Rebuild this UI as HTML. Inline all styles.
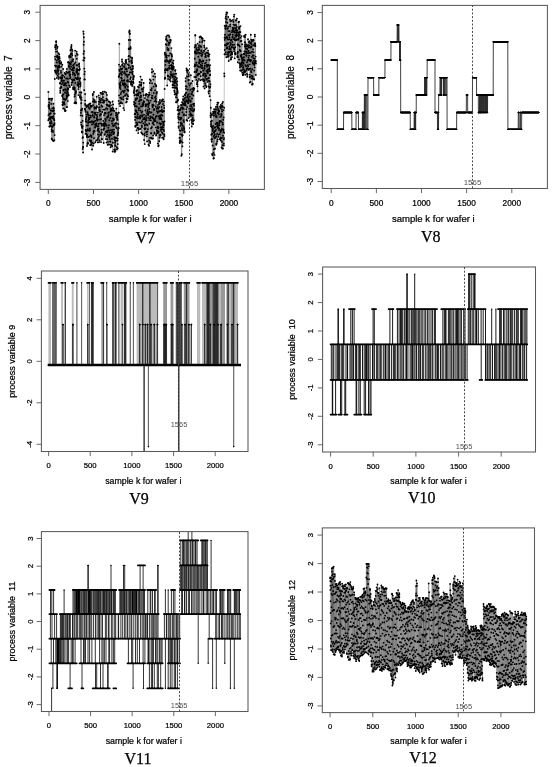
<!DOCTYPE html>
<html><head><meta charset="utf-8"><title>process variables V7-V12</title>
<style>html,body{margin:0;padding:0;background:#fff}svg{display:block;filter:grayscale(1)}</style></head><body>
<svg width="553" height="767" viewBox="0 0 553 767">
<rect width="553" height="767" fill="#fff"/>
<!-- V7 -->
<clipPath id="c7"><rect x="40.1" y="5.4" width="224.3" height="184"/></clipPath>
<marker id="m7" viewBox="-4 -4 8 8" markerWidth="8" markerHeight="8" markerUnits="userSpaceOnUse" refX="0" refY="0" overflow="visible"><circle r="0.95" fill="#000"/></marker>
<g clip-path="url(#c7)"><polyline points="48.3,120.2 48.4,91.9 48.5,115.2 48.6,106.4 48.7,105.8 48.8,105.2 48.8,104.6 48.9,118.9 49,98.8 49.1,107.5 49.2,99.3 49.3,126.6 49.4,102.5 49.5,108.7 49.6,114 49.7,113.8 49.7,118.3 49.8,117.4 49.9,126.6 50,117.2 50.1,122.5 50.2,123 50.3,119.6 50.4,123 50.5,125.3 50.6,117.9 50.6,113.2 50.7,110.1 50.8,117.2 50.9,98.6 51,110.7 51.1,126.1 51.2,103.9 51.3,100.1 51.4,121.2 51.5,117 51.6,131.4 51.6,129.2 51.7,138.8 51.8,123.2 51.9,130.9 52,127 52.1,139.5 52.2,98.7 52.3,108.4 52.4,111.2 52.5,117 52.5,118.4 52.6,117.2 52.7,126.6 52.8,140.6 52.9,130.6 53,132.1 53.1,125.2 53.2,110.8 53.3,116.1 53.4,118.2 53.4,103.7 53.5,107.5 53.6,110.3 53.7,141.1 53.8,108.5 53.9,110.7 54,119 54.1,113.5 54.2,124.5 54.3,120.3 54.4,140.1 54.4,124.8 54.5,123.2 54.6,135.1 54.7,113.6 54.8,79 54.9,70.6 55,56.6 55.1,65.6 55.2,59.1 55.3,47.5 55.3,45.3 55.4,47 55.5,72.2 55.6,70.8 55.7,71.2 55.8,66.5 55.9,49.1 56,51.6 56.1,42 56.2,45.8 56.2,41.2 56.3,44.7 56.4,73.7 56.5,65.9 56.6,73.5 56.7,60.5 56.8,62.6 56.9,78 57,56.7 57.1,57 57.1,55.6 57.2,51.6 57.3,47.9 57.4,70.1 57.5,46.8 57.6,75.7 57.7,72.1 57.8,68.3 57.9,71.5 58,67.1 58.1,58.3 58.1,66.5 58.2,59.4 58.3,57.7 58.4,56.7 58.5,53.2 58.6,78.9 58.7,73.9 58.8,70.1 58.9,77.2 59,61.4 59,67.5 59.1,65.6 59.2,66 59.3,54.4 59.4,56.9 59.5,62.3 59.6,63.6 59.7,58.5 59.8,67.4 59.9,63.4 59.9,60.6 60,83 60.1,83.6 60.2,92.7 60.3,90.7 60.4,88.6 60.5,87.7 60.6,88.1 60.7,78.2 60.8,87.5 60.9,70.9 60.9,77.3 61,72.7 61.1,63.5 61.2,62.1 61.3,66.6 61.4,87.1 61.5,81.3 61.6,78.5 61.7,80.7 61.8,84.2 61.8,78 61.9,80.1 62,75.5 62.1,95.9 62.2,77.9 62.3,64.8 62.4,75.5 62.5,104.6 62.6,102.3 62.7,95 62.7,105.3 62.8,97.1 62.9,82.7 63,75.4 63.1,69 63.2,108.5 63.3,99.1 63.4,94.2 63.5,103 63.6,90.5 63.7,89.6 63.7,80.7 63.8,80.4 63.9,85.3 64,103.9 64.1,98.9 64.2,102.2 64.3,77 64.4,84.7 64.5,83.3 64.6,109.1 64.6,104.3 64.7,73 64.8,110.9 64.9,99.6 65,84.9 65.1,92.5 65.2,89.3 65.3,92.6 65.4,74.4 65.5,110.8 65.5,110.6 65.6,99.6 65.7,99.6 65.8,73.6 65.9,89.9 66,83.2 66.1,78.6 66.2,85.6 66.3,71.7 66.4,98.6 66.5,95.7 66.5,97.5 66.6,93.7 66.7,78.1 66.8,107.1 66.9,68.9 67,107.1 67.1,96.5 67.2,91.3 67.3,96 67.4,90.1 67.4,88.1 67.5,92.5 67.6,72.7 67.7,81.8 67.8,101.1 67.9,78.8 68,89.1 68.1,62.3 68.2,94.1 68.3,62.2 68.3,89 68.4,82.5 68.5,95.5 68.6,95 68.7,72.3 68.8,66.1 68.9,66 69,67 69.1,85.4 69.2,56 69.2,57.2 69.3,63.9 69.4,62.6 69.5,74.1 69.6,71.7 69.7,75.4 69.8,55.5 69.9,87 70,78.5 70.1,76.1 70.2,68.7 70.2,74.4 70.3,56.7 70.4,50.3 70.5,77.3 70.6,63.5 70.7,64.5 70.8,56.9 70.9,54.3 71,48.9 71.1,62 71.1,66.7 71.2,47.1 71.3,53.6 71.4,46.8 71.5,45 71.6,85 71.7,82.8 71.8,79.4 71.9,53.4 72,69.6 72,49.4 72.1,70.2 72.2,60.1 72.3,55.2 72.4,50.9 72.5,82.4 72.6,80.8 72.7,74.4 72.8,68.3 72.9,72.4 73,61.2 73,87.9 73.1,59.2 73.2,89.2 73.3,65.4 73.4,79.8 73.5,65 73.6,70.2 73.7,67.5 73.8,67.2 73.9,87.2 73.9,68.2 74,88.5 74.1,73.5 74.2,87.9 74.3,80.1 74.4,103.1 74.5,63.7 74.6,96.6 74.7,89.7 74.8,88 74.8,94.7 74.9,75.2 75,75.2 75.1,50.6 75.2,102.3 75.3,78 75.4,82.9 75.5,62.5 75.6,55.8 75.7,92.4 75.8,103.3 75.8,93.1 75.9,102.7 76,91.2 76.1,78.1 76.2,103.2 76.3,71.5 76.4,72.9 76.5,69.7 76.6,65.3 76.7,58.7 76.7,51.6 76.8,53.8 76.9,79.1 77,68.8 77.1,72.1 77.2,65.3 77.3,79.3 77.4,84.8 77.5,70.3 77.6,54.7 77.6,72.6 77.7,74.7 77.8,77.2 77.9,82.5 78,85.7 78.1,78.7 78.2,84.4 78.3,89.1 78.4,95.1 78.5,84.1 78.6,73.9 78.6,87 78.7,70.2 78.8,69.9 78.9,70.3 79,64.6 79.1,66.1 79.2,63.5 79.3,66.9 79.4,78.9 79.5,84.1 79.5,81 79.6,69.5 79.7,68.9 79.8,92.5 79.9,97.2 80,96.7 80.1,95.1 80.2,78.3 80.3,86.4 80.4,82.4 80.4,83.7 80.5,84.9 80.6,98.8 80.7,115.4 80.8,110.4 80.9,112.9 81,92.4 81.1,122.4 81.2,124.8 81.3,103.3 81.3,92.5 81.4,97.4 81.5,109.2 81.6,99.9 81.7,110.6 81.8,126.3 81.9,131.7 82,132.4 82.1,127.5 82.2,108.7 82.3,115.8 82.3,127.9 82.4,131.9 82.5,137.9 82.6,120.8 82.7,149 82.8,126.2 82.9,137.3 83,147 83.1,152.5 83.2,142.6 83.2,147.3 83.3,60.1 83.4,31.5 83.5,53.7 83.6,33.8 83.7,44.8 83.8,60.6 83.9,37.3 84,41.7 84.1,57.6 84.1,51.2 84.2,90.2 84.3,68.6 84.4,74.3 84.5,79.4 84.6,58.1 84.7,79.4 84.8,71.6 84.9,109.3 85,108.9 85.1,100.6 85.1,94 85.2,103.9 85.3,104.9 85.4,110.7 85.5,133.7 85.6,129.9 85.7,111.9 85.8,121.5 85.9,119.8 86,118.1 86,130 86.1,131.2 86.2,133.8 86.3,114.6 86.4,105.9 86.5,107 86.6,116.8 86.7,125.6 86.8,121.8 86.9,135.8 86.9,137 87,146 87.1,105.3 87.2,135 87.3,130.4 87.4,143.9 87.5,112.2 87.6,106.3 87.7,113.7 87.8,142.7 87.9,125.3 87.9,129.3 88,143.5 88.1,115 88.2,122.7 88.3,137 88.4,120.2 88.5,106 88.6,122.4 88.7,130.4 88.8,117.5 88.8,104.4 88.9,107.9 89,115.5 89.1,118 89.2,118.9 89.3,119 89.4,130.8 89.5,136.6 89.6,140.2 89.7,103.7 89.7,108.8 89.8,122 89.9,128.4 90,130 90.1,140.8 90.2,145.2 90.3,140.6 90.4,103.5 90.5,135.3 90.6,105.7 90.7,106.9 90.7,115.8 90.8,117.4 90.9,121.9 91,142.3 91.1,135.9 91.2,144.3 91.3,141.1 91.4,135.8 91.5,144.8 91.6,137.1 91.6,105.7 91.7,106.6 91.8,121.1 91.9,124.5 92,149.5 92.1,112.1 92.2,142.9 92.3,112 92.4,115.7 92.5,121.9 92.5,112.3 92.6,115.1 92.7,95 92.8,101.6 92.9,94 93,105.1 93.1,145.8 93.2,122.3 93.3,133.9 93.4,123.6 93.5,99.1 93.5,131.3 93.6,101.1 93.7,132.4 93.8,143.5 93.9,92 94,121.7 94.1,138.2 94.2,102 94.3,116.5 94.4,113 94.4,117.5 94.5,107.3 94.6,131 94.7,100.2 94.8,108.6 94.9,107.6 95,113.9 95.1,127.5 95.2,124.7 95.3,120.7 95.3,142.2 95.4,127.2 95.5,124.8 95.6,124.6 95.7,112.6 95.8,102 95.9,114.8 96,107.7 96.1,108.4 96.2,140.6 96.2,125.8 96.3,123.2 96.4,123.7 96.5,118.2 96.6,106.9 96.7,96.7 96.8,106.1 96.9,107.1 97,115 97.1,119.7 97.2,120.8 97.2,116.7 97.3,119.1 97.4,126.4 97.5,130.5 97.6,139.8 97.7,139.5 97.8,112.6 97.9,142.4 98,119.7 98.1,134.6 98.1,129 98.2,137.9 98.3,126.3 98.4,124 98.5,130.4 98.6,128.6 98.7,95.5 98.8,101.6 98.9,104.1 99,136.1 99,107.7 99.1,132 99.2,142.1 99.3,97.9 99.4,110.1 99.5,102 99.6,140.4 99.7,109.9 99.8,107.1 99.9,111.4 100,115.6 100,99.7 100.1,119.5 100.2,123.4 100.3,114.5 100.4,134.2 100.5,134.8 100.6,92.9 100.7,100.6 100.8,102.5 100.9,92.9 100.9,114.2 101,134.8 101.1,142.1 101.2,119.1 101.3,98.7 101.4,123.6 101.5,105.4 101.6,129.8 101.7,132.1 101.8,139.1 101.8,132.8 101.9,139.3 102,125.7 102.1,124.7 102.2,112 102.3,106.8 102.4,94.3 102.5,93.4 102.6,94.1 102.7,99.8 102.8,93.7 102.8,102.5 102.9,91.7 103,97.2 103.1,109.6 103.2,120.9 103.3,123.8 103.4,129.5 103.5,124.6 103.6,129.5 103.7,143 103.7,102.3 103.8,102.5 103.9,100.4 104,101.3 104.1,115.1 104.2,125.7 104.3,128.4 104.4,126.5 104.5,122.9 104.6,134.7 104.6,123.5 104.7,113.4 104.8,91.7 104.9,109.7 105,134.1 105.1,112.6 105.2,118.9 105.3,113.3 105.4,121.1 105.5,124.6 105.6,123.8 105.6,113 105.7,131.9 105.8,119.8 105.9,139.1 106,108.3 106.1,100.6 106.2,92.8 106.3,125.5 106.4,98.8 106.5,104.6 106.5,142.6 106.6,136.2 106.7,125.4 106.8,131.1 106.9,94.9 107,132.5 107.1,117.8 107.2,104.8 107.3,105.4 107.4,108.9 107.4,139.2 107.5,99.7 107.6,116.6 107.7,144.8 107.8,134.6 107.9,130.6 108,141.9 108.1,105.6 108.2,116.7 108.3,127.8 108.3,112.9 108.4,144.5 108.5,115 108.6,130.4 108.7,112.4 108.8,101.5 108.9,135.7 109,125.2 109.1,105.3 109.2,106 109.3,120.2 109.3,137.3 109.4,132.4 109.5,101.8 109.6,136.1 109.7,106.6 109.8,139.1 109.9,144.6 110,134.5 110.1,130.3 110.2,141.4 110.2,141.7 110.3,118 110.4,102.8 110.5,111.5 110.6,147.3 110.7,114.9 110.8,110.2 110.9,108.6 111,105.1 111.1,135.3 111.1,109 111.2,145 111.3,110.1 111.4,132.9 111.5,113.9 111.6,110.3 111.7,121.1 111.8,145.6 111.9,109.9 112,138.7 112.1,146.3 112.1,130 112.2,131.5 112.3,123.4 112.4,107.6 112.5,110.6 112.6,101.5 112.7,151.6 112.8,118.4 112.9,142.7 113,120.4 113,125.2 113.1,104.4 113.2,134.2 113.3,126.1 113.4,108.7 113.5,132.7 113.6,110.6 113.7,119.9 113.8,119 113.9,129.6 113.9,132.1 114,133.1 114.1,139.1 114.2,137.2 114.3,149.6 114.4,149.9 114.5,110.9 114.6,151.8 114.7,150.6 114.8,149.5 114.9,123.9 114.9,125.6 115,140.3 115.1,145.2 115.2,142.8 115.3,151.6 115.4,145.9 115.5,141.3 115.6,138 115.7,137.5 115.8,140.6 115.8,123.3 115.9,115.5 116,112.9 116.1,127.1 116.2,112.9 116.3,108.6 116.4,117.5 116.5,114.1 116.6,128.3 116.7,123.5 116.7,138.1 116.8,147.3 116.9,149.5 117,115.8 117.1,117 117.2,114.2 117.3,119 117.4,119.9 117.5,140.6 117.6,135.4 117.7,138.8 117.7,148.5 117.8,144.1 117.9,135 118,129.9 118.1,133.2 118.2,132.3 118.3,124.1 118.4,127.8 118.5,112.8 118.6,112.8 118.6,128.4 118.7,100.9 118.8,76.7 118.9,76.5 119,64.6 119.1,95.4 119.2,103.7 119.3,43.8 119.4,69.8 119.5,75.1 119.5,83.5 119.6,71 119.7,73.7 119.8,86 119.9,87.8 120,84.3 120.1,106.1 120.2,97.6 120.3,103 120.4,89.1 120.4,85.8 120.5,66.5 120.6,82.1 120.7,102.2 120.8,93.9 120.9,68.8 121,72.1 121.1,73.4 121.2,77.7 121.3,102.8 121.4,98.2 121.4,92.1 121.5,69.6 121.6,99.1 121.7,78.4 121.8,80.5 121.9,74.8 122,59.4 122.1,61.4 122.2,103.4 122.3,65.3 122.3,68.5 122.4,64.8 122.5,71.9 122.6,80.6 122.7,83.1 122.8,84.2 122.9,91 123,63.1 123.1,83.6 123.2,99.5 123.2,91.3 123.3,96.9 123.4,108.1 123.5,84.9 123.6,84.5 123.7,80.8 123.8,85.3 123.9,92.4 124,73.3 124.1,66.4 124.2,110.1 124.2,66.3 124.3,80.3 124.4,67.1 124.5,83.6 124.6,71.6 124.7,83.1 124.8,90.7 124.9,64 125,95.4 125.1,73.3 125.1,95.8 125.2,86.4 125.3,87.7 125.4,84.3 125.5,69.2 125.6,61.7 125.7,60 125.8,61.8 125.9,68.4 126,60.3 126,74.8 126.1,102.4 126.2,93.9 126.3,74.6 126.4,62.9 126.5,85.2 126.6,98.6 126.7,98.6 126.8,101.8 126.9,69.1 127,89.4 127,71.2 127.1,81 127.2,80.6 127.3,76.3 127.4,95.3 127.5,76.8 127.6,99 127.7,90 127.8,86.7 127.9,64.5 127.9,80.3 128,81.6 128.1,96.4 128.2,74.8 128.3,90.7 128.4,59.3 128.5,68 128.6,56.4 128.7,49.1 128.8,40 128.8,48.8 128.9,55.9 129,65.5 129.1,74.6 129.2,32 129.3,48.5 129.4,61.4 129.5,30.4 129.6,31.7 129.7,81.6 129.8,33.6 129.8,33.8 129.9,49.1 130,72.4 130.1,72.4 130.2,79 130.3,67.2 130.4,40 130.5,47 130.6,57.1 130.7,48.3 130.7,69.1 130.8,77.2 130.9,83.1 131,84.6 131.1,82.2 131.2,81.2 131.3,84.4 131.4,60.8 131.5,69.7 131.6,62.5 131.6,72.4 131.7,60.6 131.8,62.3 131.9,63.1 132,58.8 132.1,57.8 132.2,86.1 132.3,84.7 132.4,74.4 132.5,69.1 132.5,73.2 132.6,65.9 132.7,71.6 132.8,66.3 132.9,68.3 133,81.8 133.1,82.4 133.2,79 133.3,79.4 133.4,83 133.5,77.7 133.5,76.9 133.6,75.8 133.7,76.3 133.8,92.8 133.9,91.1 134,92.8 134.1,102 134.2,104.2 134.3,104.6 134.4,89.9 134.4,87 134.5,88.2 134.6,95.2 134.7,114.2 134.8,106.2 134.9,114.2 135,113.8 135.1,119.9 135.2,116.9 135.3,126.8 135.3,103.2 135.4,125.9 135.5,100.2 135.6,99.6 135.7,110.2 135.8,98.5 135.9,105.9 136,94.5 136.1,117.6 136.2,122.4 136.3,111.2 136.3,111.9 136.4,91.4 136.5,130.4 136.6,90.4 136.7,125 136.8,95.3 136.9,106.7 137,98.4 137.1,98.5 137.2,123.2 137.2,112.7 137.3,116.1 137.4,118.2 137.5,124.8 137.6,90.2 137.7,128 137.8,114.3 137.9,93.6 138,94.4 138.1,95.4 138.1,86.8 138.2,133.1 138.3,128.2 138.4,129.7 138.5,110.1 138.6,118.2 138.7,87.3 138.8,108.5 138.9,108.1 139,92.3 139.1,101.4 139.1,122.3 139.2,103.9 139.3,85.1 139.4,116.4 139.5,129.1 139.6,82 139.7,100.9 139.8,117 139.9,117.8 140,99.8 140,97.3 140.1,118.6 140.2,93 140.3,110.6 140.4,84.8 140.5,76.6 140.6,128.9 140.7,122.6 140.8,97.3 140.9,115.4 140.9,95.7 141,106.4 141.1,85.6 141.2,84.7 141.3,132.4 141.4,82.7 141.5,99.9 141.6,112.6 141.7,125.8 141.8,89.3 141.9,79.7 141.9,133.5 142,127 142.1,121.2 142.2,116.8 142.3,111.4 142.4,115.5 142.5,106.3 142.6,104.4 142.7,91.4 142.8,89.4 142.8,89 142.9,134.5 143,103 143.1,119.3 143.2,123.5 143.3,104.2 143.4,105.3 143.5,87.6 143.6,101.7 143.7,83 143.7,95.2 143.8,102.7 143.9,101.3 144,114.7 144.1,140 144.2,118.6 144.3,117.4 144.4,128.5 144.5,118.9 144.6,133.7 144.7,144.1 144.7,125.4 144.8,135.5 144.9,98.1 145,129.2 145.1,124.4 145.2,122.1 145.3,119.2 145.4,110.4 145.5,106.2 145.6,128.4 145.6,104.5 145.7,94.8 145.8,95.5 145.9,132.1 146,115.9 146.1,120.3 146.2,104.4 146.3,94 146.4,120.3 146.5,105.4 146.5,117.9 146.6,124.4 146.7,132.3 146.8,136.4 146.9,134.2 147,99.8 147.1,141.5 147.2,131.4 147.3,125.3 147.4,113.8 147.4,113.2 147.5,111.8 147.6,104.3 147.7,94.6 147.8,109.9 147.9,129.2 148,96.9 148.1,114.6 148.2,115.1 148.3,107 148.4,117.9 148.4,100.8 148.5,144.5 148.6,113.3 148.7,104.9 148.8,95.2 148.9,103.2 149,145.8 149.1,140.5 149.2,92.7 149.3,120.1 149.3,123.7 149.4,111.6 149.5,109 149.6,102.7 149.7,94.6 149.8,83 149.9,79.4 150,138 150.1,141.7 150.2,143 150.2,118.6 150.3,116.4 150.4,112.4 150.5,117.9 150.6,100.6 150.7,90 150.8,80.7 150.9,120.4 151,133.4 151.1,128.2 151.2,133.2 151.2,137.7 151.3,117.1 151.4,112.5 151.5,90.2 151.6,97.8 151.7,88.2 151.8,127.3 151.9,72.3 152,69.3 152.1,138.8 152.1,83.3 152.2,95.8 152.3,98.3 152.4,105.6 152.5,117.2 152.6,104.7 152.7,107 152.8,123.5 152.9,118.3 153,138.4 153,122.5 153.1,135.6 153.2,71.2 153.3,76.3 153.4,79.6 153.5,114.8 153.6,86.5 153.7,105.2 153.8,92.9 153.9,124.7 154,110 154,120.6 154.1,119.4 154.2,109 154.3,119.4 154.4,133.8 154.5,132.4 154.6,121.3 154.7,119.7 154.8,73.7 154.9,101.4 154.9,97.4 155,84 155.1,90.4 155.2,76.8 155.3,118.1 155.4,121 155.5,100.1 155.6,106.6 155.7,96.2 155.8,116.8 155.8,127.6 155.9,98.6 156,135.5 156.1,85.3 156.2,86.2 156.3,93.1 156.4,134.1 156.5,101.8 156.6,93.7 156.7,130.3 156.8,116 156.8,108.7 156.9,92 157,111.2 157.1,122.5 157.2,130.9 157.3,130.9 157.4,133.1 157.5,132.7 157.6,107.2 157.7,127.2 157.7,112.7 157.8,143.6 157.9,127.3 158,104.9 158.1,128.2 158.2,132.3 158.3,146.2 158.4,108.8 158.5,127.5 158.6,131.5 158.6,116.5 158.7,145.4 158.8,111.5 158.9,103.9 159,101.9 159.1,107 159.2,141.3 159.3,116.1 159.4,111.4 159.5,123.3 159.5,118 159.6,118.9 159.7,137.7 159.8,103.6 159.9,100 160,134.7 160.1,135.9 160.2,102.4 160.3,115.5 160.4,110.9 160.5,116.9 160.5,118.9 160.6,124.5 160.7,129.6 160.8,135.1 160.9,123.4 161,127.2 161.1,117.9 161.2,131.1 161.3,127.9 161.4,119.5 161.4,101.1 161.5,114.7 161.6,106.9 161.7,111.5 161.8,109.8 161.9,101.1 162,132.7 162.1,126.9 162.2,137.7 162.3,121.6 162.3,129.2 162.4,115.8 162.5,99.8 162.6,99.8 162.7,112 162.8,133.8 162.9,99.4 163,104 163.1,111 163.2,127.2 163.3,125 163.3,123.3 163.4,122.3 163.5,129.7 163.6,139.2 163.7,137.7 163.8,125.1 163.9,101.6 164,105.6 164.1,131.1 164.2,107.9 164.2,111.1 164.3,134.5 164.4,136 164.5,121.4 164.6,89 164.7,54.1 164.8,78.7 164.9,52.7 165,70.5 165.1,61 165.1,77.8 165.2,78.4 165.3,72.5 165.4,64.9 165.5,69.3 165.6,55.2 165.7,44.1 165.8,54.2 165.9,61.8 166,56.9 166.1,55.7 166.1,39.6 166.2,36.7 166.3,38.8 166.4,59.6 166.5,39.8 166.6,45 166.7,57.6 166.8,70.3 166.9,55.6 167,69.2 167,69.7 167.1,60.6 167.2,85.5 167.3,35.4 167.4,47.9 167.5,40.9 167.6,49.7 167.7,70.3 167.8,75.7 167.9,76.3 167.9,75.8 168,68.8 168.1,78.9 168.2,61.1 168.3,61.6 168.4,50.2 168.5,49 168.6,43.6 168.7,35.5 168.8,45.1 168.9,42.5 168.9,55.8 169,67.6 169.1,63 169.2,76.9 169.3,65.7 169.4,36.9 169.5,43.2 169.6,80 169.7,79.4 169.8,68.8 169.8,61 169.9,60.1 170,61.7 170.1,60.6 170.2,53.4 170.3,40.1 170.4,42.1 170.5,39.8 170.6,40.5 170.7,81.4 170.7,74.2 170.8,77.9 170.9,71.9 171,76 171.1,65.4 171.2,68.2 171.3,64.9 171.4,48.1 171.5,59.5 171.6,54.3 171.6,67.2 171.7,55.2 171.8,74.1 171.9,74.9 172,56.5 172.1,66 172.2,69.3 172.3,69.8 172.4,62.5 172.5,85.1 172.6,87.6 172.6,76 172.7,67.6 172.8,77.1 172.9,81.6 173,68.3 173.1,84.4 173.2,63.6 173.3,66.5 173.4,60.6 173.5,68.3 173.5,69 173.6,85.2 173.7,66.9 173.8,81.7 173.9,74.3 174,87.5 174.1,79 174.2,76.5 174.3,90.7 174.4,81.2 174.4,81.7 174.5,83.2 174.6,92.1 174.7,94.4 174.8,87.6 174.9,85.6 175,81.3 175.1,70.8 175.2,82.4 175.3,73.6 175.4,70.3 175.4,77.3 175.5,80.3 175.6,82.2 175.7,87.8 175.8,93.8 175.9,97.1 176,102.3 176.1,73.6 176.2,79.4 176.3,87.1 176.3,83.4 176.4,95 176.5,88.1 176.6,97.4 176.7,102.3 176.8,93.4 176.9,78.1 177,88.3 177.1,84.9 177.2,89.3 177.2,81.4 177.3,91.5 177.4,101.1 177.5,110.1 177.6,90.9 177.7,92.9 177.8,99.5 177.9,100.3 178,107.6 178.1,110.2 178.2,114.1 178.2,116.5 178.3,118.3 178.4,122.6 178.5,114.4 178.6,126.5 178.7,127.9 178.8,106.1 178.9,110.1 179,110.7 179.1,113.7 179.1,109.4 179.2,117.6 179.3,119.6 179.4,113.1 179.5,130.1 179.6,138 179.7,137.8 179.8,143 179.9,142.3 180,141.9 180,140.7 180.1,134.3 180.2,110.1 180.3,130.9 180.4,140.1 180.5,119.4 180.6,125.7 180.7,109 180.8,122.7 180.9,117.6 181,105 181,107.4 181.1,118.5 181.2,117.9 181.3,124.2 181.4,155.8 181.5,141.4 181.6,134.5 181.7,105.3 181.8,154.2 181.9,123.7 181.9,128.1 182,129.9 182.1,102.2 182.2,135.9 182.3,108.8 182.4,146.4 182.5,112.3 182.6,142.6 182.7,135.2 182.8,107.3 182.8,125.8 182.9,130.2 183,99.2 183.1,104.2 183.2,103.2 183.3,96.4 183.4,100.4 183.5,104.8 183.6,120.2 183.7,108.9 183.8,115.2 183.8,127.1 183.9,121.9 184,114.2 184.1,128.4 184.2,129 184.3,132.2 184.4,131.1 184.5,98.7 184.6,103.9 184.7,105.3 184.7,132.2 184.8,101.4 184.9,103.4 185,95 185.1,94.9 185.2,102.2 185.3,97.4 185.4,105.2 185.5,105.4 185.6,93.5 185.6,81.3 185.7,78.1 185.8,86.2 185.9,88.9 186,115.2 186.1,100.3 186.2,92.6 186.3,109.2 186.4,112 186.5,120 186.5,68.5 186.6,70.5 186.7,86.8 186.8,101.6 186.9,100.7 187,76.5 187.1,107.1 187.2,97.2 187.3,120.8 187.4,70.9 187.5,69.8 187.5,72.6 187.6,96.8 187.7,97.4 187.8,89.6 187.9,95 188,70.6 188.1,103.3 188.2,101 188.3,102.8 188.4,79.9 188.4,99 188.5,118.1 188.6,76.2 188.7,74.3 188.8,80.6 188.9,101.2 189,83.4 189.1,94 189.2,99.5 189.3,101.2 189.3,108.8 189.4,114.6 189.5,85.2 189.6,117 189.7,111.8 189.8,96.8 189.9,105.9 190,109 190.1,109.7 190.2,114.8 190.3,113.1 190.3,83.8 190.4,108.6 190.5,89.7 190.6,101.8 190.7,100.6 190.8,75.2 190.9,115.8 191,105 191.1,114.5 191.2,83.1 191.2,115.4 191.3,120 191.4,94 191.5,106.5 191.6,110.2 191.7,122.1 191.8,126.5 191.9,94.3 192,98.5 192.1,89 192.1,91.9 192.2,108.1 192.3,123.8 192.4,119.5 192.5,81 192.6,91.5 192.7,115.4 192.8,117.9 192.9,121.3 193,110.1 193.1,111.2 193.1,104.3 193.2,124 193.3,95.5 193.4,89.3 193.5,87.9 193.6,88.5 193.7,90 193.8,103.9 193.9,120.3 194,103.6 194,105.7 194.1,110.6 194.2,109.3 194.3,88.6 194.4,76.9 194.5,66.2 194.6,72 194.7,47.2 194.8,58.7 194.9,51.8 194.9,64.5 195,52.7 195.1,45.1 195.2,35.5 195.3,35.1 195.4,65.8 195.5,51.2 195.6,77.6 195.7,53.6 195.8,46.6 195.9,77 195.9,65.3 196,45 196.1,71.2 196.2,79.9 196.3,72.2 196.4,62.8 196.5,48.3 196.6,49.8 196.7,52.1 196.8,53.6 196.8,84.1 196.9,65.3 197,69.3 197.1,75.1 197.2,70.5 197.3,82.4 197.4,84.3 197.5,86.2 197.6,91.3 197.7,43.6 197.7,75.4 197.8,81 197.9,74.1 198,50.5 198.1,66.5 198.2,52.8 198.3,56.8 198.4,49.8 198.5,47.6 198.6,47.2 198.6,66.8 198.7,74.2 198.8,49.7 198.9,79 199,45.2 199.1,62.1 199.2,63.4 199.3,73.8 199.4,49.3 199.5,37.1 199.6,42 199.6,59.7 199.7,62.5 199.8,53.6 199.9,52.9 200,67 200.1,60.5 200.2,60.6 200.3,80.3 200.4,36.4 200.5,46.4 200.5,46.2 200.6,76.3 200.7,65 200.8,72 200.9,72.3 201,53.4 201.1,37.1 201.2,46.9 201.3,50.5 201.4,55.6 201.4,51.2 201.5,61.7 201.6,65.7 201.7,68 201.8,37.9 201.9,55.8 202,79.6 202.1,38.5 202.2,42 202.3,65.7 202.4,54.1 202.4,63.6 202.5,79.7 202.6,68.3 202.7,38.8 202.8,40.6 202.9,52.7 203,60.4 203.1,61.5 203.2,75.5 203.3,70.5 203.3,74.3 203.4,70.5 203.5,86.6 203.6,81.1 203.7,79.2 203.8,75.3 203.9,50.9 204,50.6 204.1,73.4 204.2,81.1 204.2,45.6 204.3,67.4 204.4,47.2 204.5,40.6 204.6,88.4 204.7,68.7 204.8,80.2 204.9,65.8 205,83.3 205.1,63.4 205.2,85.3 205.2,76.9 205.3,56.8 205.4,54.2 205.5,49.1 205.6,53.4 205.7,73.9 205.8,55.7 205.9,57.1 206,62.6 206.1,75.8 206.1,75.7 206.2,78.8 206.3,87.1 206.4,86.2 206.5,71.1 206.6,60.4 206.7,52.6 206.8,48.1 206.9,79.9 207,64.8 207,66.8 207.1,71.4 207.2,65.6 207.3,71.3 207.4,72.2 207.5,81.9 207.6,69.8 207.7,52.7 207.8,73.2 207.9,65 208,64.9 208,78.4 208.1,50.6 208.2,55.6 208.3,55.7 208.4,53.5 208.5,91.8 208.6,56.2 208.7,86.5 208.8,93.6 208.9,80.8 208.9,78 209,69.5 209.1,71.2 209.2,66 209.3,68.2 209.4,54.4 209.5,59.9 209.6,90.9 209.7,96.3 209.8,81.5 209.8,87.8 209.9,71 210,75.3 210.1,65.1 210.2,74.7 210.3,86.8 210.4,84.2 210.5,115.5 210.6,100.1 210.7,117.2 210.7,113.2 210.8,107.7 210.9,121.5 211,124.8 211.1,123.1 211.2,126.3 211.3,134.8 211.4,126.5 211.5,139.7 211.6,139.2 211.7,115.2 211.7,114.7 211.8,141.8 211.9,120.7 212,127.2 212.1,139.1 212.2,133.7 212.3,153.9 212.4,154.2 212.5,155.4 212.6,145.5 212.6,126.7 212.7,130 212.8,131.1 212.9,128.7 213,125.9 213.1,113.8 213.2,111.6 213.3,113.2 213.4,158.5 213.5,136.1 213.5,152.9 213.6,113.3 213.7,132.6 213.8,149.2 213.9,158.2 214,115.8 214.1,109.2 214.2,132.6 214.3,137.4 214.4,135.1 214.5,131 214.5,154.9 214.6,127.8 214.7,112.6 214.8,111.2 214.9,134.1 215,148.8 215.1,138 215.2,112.8 215.3,131.3 215.4,127.3 215.4,114.4 215.5,111.7 215.6,109.1 215.7,124 215.8,116.6 215.9,106.9 216,129.6 216.1,136.8 216.2,136.1 216.3,144 216.3,144.7 216.4,109.5 216.5,115.7 216.6,143.4 216.7,123.2 216.8,117.1 216.9,126.1 217,122.8 217.1,134 217.2,104.7 217.3,106.8 217.3,141.5 217.4,102.6 217.5,113.3 217.6,107.6 217.7,139.5 217.8,124.1 217.9,126.6 218,127.5 218.1,125.1 218.2,128.3 218.2,110.1 218.3,102.7 218.4,136.7 218.5,112.9 218.6,109.1 218.7,134.8 218.8,111.2 218.9,114.5 219,128.5 219.1,130.1 219.1,111.6 219.2,110.8 219.3,123.2 219.4,125.2 219.5,122.2 219.6,121.5 219.7,134.1 219.8,121.2 219.9,139.2 220,121 220.1,116.9 220.1,106.4 220.2,107.9 220.3,139 220.4,132.1 220.5,137.7 220.6,130.1 220.7,131.9 220.8,140.6 220.9,104.9 221,106.6 221,107.7 221.1,121.4 221.2,113.9 221.3,116 221.4,130.3 221.5,114.8 221.6,147.5 221.7,109.6 221.8,138 221.9,128.9 221.9,141.9 222,106.1 222.1,111.4 222.2,103.4 222.3,148.5 222.4,106.1 222.5,145.2 222.6,122.6 222.7,124.3 222.8,124.6 222.8,106.9 222.9,101.9 223,148.6 223.1,135.7 223.2,119.7 223.3,130.3 223.4,129.4 223.5,131.9 223.6,110.1 223.7,117.4 223.8,143.6 223.8,139.4 223.9,145.5 224,137.9 224.1,132.7 224.2,107.7 224.3,73.5 224.4,76.3 224.5,54.2 224.6,37.5 224.7,25.8 224.7,39.9 224.8,50 224.9,34.8 225,45.3 225.1,45.2 225.2,54.4 225.3,38.1 225.4,28 225.5,37.7 225.6,28.8 225.6,18.3 225.7,26.3 225.8,52.4 225.9,16.4 226,21.9 226.1,45.5 226.2,14.4 226.3,57.3 226.4,25.8 226.5,12.5 226.6,43.9 226.6,19.2 226.7,48.4 226.8,37 226.9,37.6 227,47.5 227.1,54.4 227.2,12.8 227.3,22.8 227.4,48.2 227.5,28.8 227.5,39 227.6,56.4 227.7,44.2 227.8,28.3 227.9,52.4 228,56.8 228.1,43.2 228.2,17 228.3,26.6 228.4,35.3 228.4,39.6 228.5,31.1 228.6,53.9 228.7,61 228.8,51.9 228.9,55.9 229,52.6 229.1,51.8 229.2,46.5 229.3,49.6 229.4,48.4 229.4,37.2 229.5,31.1 229.6,34.9 229.7,39.3 229.8,48.2 229.9,19.5 230,26.3 230.1,42.7 230.2,24.6 230.3,45.1 230.3,21.1 230.4,34.2 230.5,59.5 230.6,51.3 230.7,55 230.8,49.1 230.9,40.6 231,44.1 231.1,59.3 231.2,57.6 231.2,53.6 231.3,51.7 231.4,20.7 231.5,32.1 231.6,47.3 231.7,39.7 231.8,46.8 231.9,52.8 232,57.1 232.1,54.2 232.2,30.5 232.2,52.7 232.3,42.1 232.4,37.5 232.5,27.6 232.6,36.4 232.7,44.7 232.8,34.6 232.9,31.9 233,19.9 233.1,30.2 233.1,28.2 233.2,47.4 233.3,21.7 233.4,30.1 233.5,24.6 233.6,28.9 233.7,31.1 233.8,39 233.9,16.4 234,48.4 234,44.8 234.1,51.3 234.2,49.2 234.3,14.6 234.4,38.2 234.5,31.5 234.6,32.6 234.7,58.4 234.8,39.5 234.9,25.3 235,28 235,53.7 235.1,53.3 235.2,47.3 235.3,40.3 235.4,35.5 235.5,53.1 235.6,54.4 235.7,20.5 235.8,30.4 235.9,25 235.9,28.8 236,32.6 236.1,36.8 236.2,40.3 236.3,20.1 236.4,34.8 236.5,39.7 236.6,30.6 236.7,32.9 236.8,27 236.8,30.9 236.9,18.6 237,29.9 237.1,32.3 237.2,35.5 237.3,56.9 237.4,39.1 237.5,53.5 237.6,44.5 237.7,51.9 237.7,55.9 237.8,62.3 237.9,51.9 238,57.3 238.1,32.7 238.2,44.9 238.3,44.6 238.4,39.7 238.5,22.3 238.6,34.5 238.7,38.4 238.7,36.5 238.8,28.1 238.9,59.6 239,21.7 239.1,45.5 239.2,28.8 239.3,63.2 239.4,27 239.5,32.6 239.6,34.9 239.6,31.9 239.7,50 239.8,46.4 239.9,67.4 240,50.5 240.1,65.7 240.2,70.5 240.3,64.5 240.4,37.8 240.5,26.1 240.5,32.1 240.6,41.3 240.7,51.3 240.8,56 240.9,55.2 241,63.7 241.1,66.2 241.2,70.9 241.3,63.9 241.4,41 241.5,36.1 241.5,57 241.6,62.6 241.7,57.2 241.8,54.8 241.9,70.3 242,59.3 242.1,44.3 242.2,58.3 242.3,72.7 242.4,60.8 242.4,62.1 242.5,58.1 242.6,65.2 242.7,75.1 242.8,74.4 242.9,74.7 243,74.9 243.1,67.7 243.2,67.2 243.3,63.5 243.3,69.4 243.4,62.6 243.5,59.6 243.6,73.2 243.7,54.1 243.8,59.9 243.9,57.2 244,53.6 244.1,71.8 244.2,36.7 244.3,35.6 244.3,69.9 244.4,60.4 244.5,51.5 244.6,54.1 244.7,71.9 244.8,46.5 244.9,42.1 245,42.6 245.1,36.9 245.2,74.8 245.2,44.7 245.3,71.8 245.4,65.2 245.5,51.5 245.6,34.8 245.7,44.4 245.8,46.8 245.9,48.7 246,46.4 246.1,70.6 246.1,44.5 246.2,66.4 246.3,55.6 246.4,51.8 246.5,53.6 246.6,53.2 246.7,55.7 246.8,69 246.9,73.9 247,62.3 247.1,46 247.1,49.4 247.2,48.8 247.3,76.8 247.4,74.9 247.5,68.2 247.6,60.3 247.7,65.3 247.8,60.4 247.9,53.3 248,39.3 248,44.9 248.1,46.7 248.2,51.2 248.3,66.2 248.4,57.6 248.5,69.5 248.6,50.9 248.7,69.8 248.8,42.3 248.9,59.3 248.9,47.6 249,47.3 249.1,55.8 249.2,52.8 249.3,41.3 249.4,45.4 249.5,60.3 249.6,64.4 249.7,74.6 249.8,82.6 249.8,77.3 249.9,76.8 250,68.6 250.1,68.6 250.2,60.2 250.3,61.4 250.4,43.2 250.5,43.3 250.6,81.9 250.7,52.8 250.8,34.8 250.8,47.3 250.9,47.5 251,70.9 251.1,60.1 251.2,39.7 251.3,72.2 251.4,76 251.5,78.5 251.6,44.1 251.7,41.5 251.7,41.6 251.8,46.5 251.9,56.9 252,51.6 252.1,84.5 252.2,69.2 252.3,62.1 252.4,40.2 252.5,84.4 252.6,83.6 252.6,77.9 252.7,76.1 252.8,55.5 252.9,63.3 253,49.3 253.1,63.8 253.2,79.1 253.3,39.8 253.4,45.3 253.5,40.4 253.6,52.3 253.6,58.2 253.7,55.5 253.8,60.9 253.9,63.8 254,79.2 254.1,70.5 254.2,79.4 254.3,65.1 254.4,63.3 254.5,62.6 254.5,58.8 254.6,67.5 254.7,43.7 254.8,34.6 254.9,36.2 255,43.3 255.1,46 255.2,45 255.3,62.2 255.4,46.1 255.4,62.2 255.5,61.2 255.6,56.6 255.7,60.9 255.8,74.9 255.9,63.6" fill="none" stroke="#707070" stroke-width="0.4" stroke-linejoin="round" marker-start="url(#m7)" marker-mid="url(#m7)" marker-end="url(#m7)"/></g>
<rect x="40.1" y="5.4" width="224.3" height="184" fill="none" stroke="#5a5a5a" stroke-width="1.05"/>
<path d="M48.3 189.4v4.6M93.5 189.4v4.6M138.6 189.4v4.6M183.8 189.4v4.6M228.9 189.4v4.6M40.1 182.4h-4.8M40.1 154h-4.8M40.1 125.7h-4.8M40.1 97.3h-4.8M40.1 68.9h-4.8M40.1 40.6h-4.8M40.1 12.2h-4.8" stroke="#5a5a5a" stroke-width="0.9" fill="none"/>
<path d="M189.5 5V189.4" stroke="#4a4a4a" stroke-width="1" stroke-dasharray="2 1.7" fill="none"/>
<g font-family="'Liberation Sans', sans-serif" fill="#000" stroke="#000" stroke-width="0.22">
<text x="48.3" y="206.2" font-size="8.3" text-anchor="middle">0</text>
<text x="93.5" y="206.2" font-size="8.3" text-anchor="middle">500</text>
<text x="138.6" y="206.2" font-size="8.3" text-anchor="middle">1000</text>
<text x="183.8" y="206.2" font-size="8.3" text-anchor="middle">1500</text>
<text x="228.9" y="206.2" font-size="8.3" text-anchor="middle">2000</text>
<text transform="translate(30.2 182.4) rotate(-90)" font-size="8.3" text-anchor="middle">-3</text>
<text transform="translate(30.2 154) rotate(-90)" font-size="8.3" text-anchor="middle">-2</text>
<text transform="translate(30.2 125.7) rotate(-90)" font-size="8.3" text-anchor="middle">-1</text>
<text transform="translate(30.2 97.3) rotate(-90)" font-size="8.3" text-anchor="middle">0</text>
<text transform="translate(30.2 68.9) rotate(-90)" font-size="8.3" text-anchor="middle">1</text>
<text transform="translate(30.2 40.6) rotate(-90)" font-size="8.3" text-anchor="middle">2</text>
<text transform="translate(30.2 12.2) rotate(-90)" font-size="8.3" text-anchor="middle">3</text>
<text x="150.2" y="221.7" font-size="9.55" text-anchor="middle">sample k for wafer i</text>
<text transform="translate(12 97.4) rotate(-90)" font-size="10.0" text-anchor="middle">process variable  7</text>
<text x="189.6" y="185.6" font-size="7.9" text-anchor="middle" fill="#505050" stroke="none">1565</text>
</g>
<text x="145.3" y="242.6" font-family="'Liberation Serif', serif" font-size="16" text-anchor="middle" fill="#000" stroke="#000" stroke-width="0.25">V7</text>
<!-- V8 -->
<clipPath id="c8"><rect x="322.3" y="5.4" width="225.1" height="183.1"/></clipPath>
<marker id="m8" viewBox="-4 -4 8 8" markerWidth="8" markerHeight="8" markerUnits="userSpaceOnUse" refX="0" refY="0" overflow="visible"><circle r="0.72" fill="#000"/></marker>
<g clip-path="url(#c8)"><polyline points="331.2,60.1 331.3,60.1 331.4,60.1 331.5,60.1 331.6,60.1 331.7,60.1 331.7,60.1 331.8,60.1 331.9,60.1 332,60.1 332.1,60.1 332.2,60.1 332.3,60.1 332.4,60.1 332.5,60.1 332.6,60.1 332.6,60.1 332.7,60.1 332.8,60.1 332.9,60.1 333,60.1 333.1,60.1 333.2,60.1 333.3,60.1 333.4,60.1 333.5,60.1 333.5,60.1 333.6,60.1 333.7,60.1 333.8,60.1 333.9,60.1 334,60.1 334.1,60.1 334.2,60.1 334.3,60.1 334.4,60.1 334.5,60.1 334.5,60.1 334.6,60.1 334.7,60.1 334.8,60.1 334.9,60.1 335,60.1 335.1,60.1 335.2,60.1 335.3,60.1 335.4,60.1 335.4,60.1 335.5,60.1 335.6,60.1 335.7,60.1 335.8,60.1 335.9,60.1 336,60.1 336.1,60.1 336.2,60.1 336.3,60.1 336.3,60.1 336.4,60.1 336.5,60.1 336.6,60.1 336.7,60.1 336.8,60.1 336.9,60.1 337,60.1 337.1,60.1 337.2,60.1 337.3,60.1 337.3,129.4 337.4,129.4 337.5,129.4 337.6,129.4 337.7,129.4 337.8,129.4 337.9,129.4 338,129.4 338.1,129.4 338.2,129.4 338.2,129.4 338.3,129.4 338.4,129.4 338.5,129.4 338.6,129.4 338.7,129.4 338.8,129.4 338.9,129.4 339,129.4 339.1,129.4 339.1,129.4 339.2,129.4 339.3,129.4 339.4,129.4 339.5,129.4 339.6,129.4 339.7,129.4 339.8,129.4 339.9,129.4 340,129.4 340,129.4 340.1,129.4 340.2,129.4 340.3,129.4 340.4,129.4 340.5,129.4 340.6,129.4 340.7,129.4 340.8,129.4 340.9,129.4 341,129.4 341,129.4 341.1,129.4 341.2,129.4 341.3,129.4 341.4,129.4 341.5,129.4 341.6,129.4 341.7,129.4 341.8,129.4 341.9,129.4 341.9,129.4 342,129.4 342.1,129.4 342.2,129.4 342.3,129.4 342.4,129.4 342.5,129.4 342.6,129.4 342.7,129.4 342.8,129.4 342.8,129.4 342.9,129.4 343,129.4 343.1,129.4 343.2,129.4 343.3,129.4 343.4,129.4 343.5,129.4 343.6,112.5 343.7,112.5 343.8,112.5 343.8,112.5 343.9,112.5 344,112.5 344.1,112.5 344.2,112.5 344.3,112.5 344.4,112.5 344.5,112.5 344.6,112.5 344.7,112.5 344.7,112.5 344.8,112.5 344.9,112.5 345,112.5 345.1,112.5 345.2,112.5 345.3,112.5 345.4,112.5 345.5,112.5 345.6,112.5 345.6,112.5 345.7,112.5 345.8,112.5 345.9,112.5 346,112.5 346.1,112.5 346.2,112.5 346.3,112.5 346.4,112.5 346.5,112.5 346.6,112.5 346.6,112.5 346.7,112.5 346.8,112.5 346.9,112.5 347,112.5 347.1,112.5 347.2,112.5 347.3,112.5 347.4,112.5 347.5,112.5 347.5,112.5 347.6,112.5 347.7,112.5 347.8,112.5 347.9,112.5 348,112.5 348.1,112.5 348.2,112.5 348.3,112.5 348.4,112.5 348.4,112.5 348.5,112.5 348.6,112.5 348.7,112.5 348.8,112.5 348.9,112.5 349,112.5 349.1,112.5 349.2,112.5 349.3,112.5 349.4,112.5 349.4,112.5 349.5,112.5 349.6,112.5 349.7,112.5 349.8,112.5 349.9,112.5 350,112.5 350.1,112.5 350.2,112.5 350.3,112.5 350.3,112.5 350.4,112.5 350.5,112.5 350.6,112.5 350.7,112.5 350.8,112.5 350.9,112.5 351,112.5 351.1,112.5 351.2,112.5 351.2,112.5 351.3,112.5 351.4,112.5 351.5,112.5 351.6,112.5 351.7,112.5 351.8,112.5 351.9,129.4 352,129.4 352.1,129.4 352.1,129.4 352.2,129.4 352.3,129.4 352.4,129.4 352.5,129.4 352.6,129.4 352.7,129.4 352.8,129.4 352.9,129.4 353,129.4 353.1,129.4 353.1,129.4 353.2,129.4 353.3,129.4 353.4,129.4 353.5,129.4 353.6,129.4 353.7,129.4 353.8,129.4 353.9,129.4 354,129.4 354,129.4 354.1,129.4 354.2,129.4 354.3,129.4 354.4,129.4 354.5,129.4 354.6,129.4 354.7,129.4 354.8,129.4 354.9,129.4 354.9,129.4 355,129.4 355.1,129.4 355.2,129.4 355.3,129.4 355.4,129.4 355.5,129.4 355.6,129.4 355.7,129.4 355.8,129.4 355.9,129.4 355.9,129.4 356,129.4 356.1,112.5 356.2,112.5 356.3,112.5 356.4,112.5 356.5,112.5 356.6,112.5 356.7,112.5 356.8,112.5 356.8,112.5 356.9,112.5 357,112.5 357.1,112.5 357.2,112.5 357.3,112.5 357.4,112.5 357.5,112.5 357.6,112.5 357.7,112.5 357.7,112.5 357.8,112.5 357.9,112.5 358,112.5 358.1,112.5 358.2,112.5 358.3,112.5 358.4,112.5 358.5,129.4 358.6,129.4 358.7,129.4 358.7,129.4 358.8,129.4 358.9,129.4 359,129.4 359.1,129.4 359.2,129.4 359.3,129.4 359.4,129.4 359.5,129.4 359.6,129.4 359.6,129.4 359.7,129.4 359.8,129.4 359.9,129.4 360,129.4 360.1,129.4 360.2,129.4 360.3,129.4 360.4,129.4 360.5,129.4 360.5,129.4 360.6,129.4 360.7,129.4 360.8,129.4 360.9,129.4 361,129.4 361.1,129.4 361.2,129.4 361.3,129.4 361.4,129.4 361.5,129.4 361.5,129.4 361.6,129.4 361.7,129.4 361.8,129.4 361.9,129.4 362,129.4 362.1,129.4 362.2,129.4 362.3,129.4 362.4,112.5 362.4,112.5 362.5,112.5 362.6,129.4 362.7,112.5 362.8,112.5 362.9,112.5 363,129.4 363.1,112.5 363.2,112.5 363.3,112.5 363.3,129.4 363.4,112.5 363.5,112.5 363.6,112.5 363.7,129.4 363.8,112.5 363.9,112.5 364,112.5 364.1,129.4 364.2,112.5 364.2,112.5 364.3,112.5 364.4,95 364.5,95 364.6,95 364.7,129.4 364.8,129.4 364.9,95 365,95 365.1,95 365.2,95 365.2,95 365.3,95 365.4,95 365.5,95 365.6,95 365.7,95 365.8,129.4 365.9,129.4 366,95 366.1,95 366.1,95 366.2,95 366.3,95 366.4,95 366.5,95 366.6,95 366.7,95 366.8,95 366.9,95 367,95 367,129.4 367.1,129.4 367.2,129.4 367.3,129.4 367.4,129.4 367.5,129.4 367.6,129.4 367.7,129.4 367.8,129.4 367.9,129.4 368,77.6 368,77.6 368.1,77.6 368.2,77.6 368.3,77.6 368.4,77.6 368.5,77.6 368.6,77.6 368.7,77.6 368.8,77.6 368.9,77.6 368.9,77.6 369,77.6 369.1,77.6 369.2,77.6 369.3,77.6 369.4,77.6 369.5,77.6 369.6,77.6 369.7,77.6 369.8,77.6 369.8,77.6 369.9,77.6 370,77.6 370.1,77.6 370.2,77.6 370.3,77.6 370.4,77.6 370.5,77.6 370.6,77.6 370.7,77.6 370.8,77.6 370.8,77.6 370.9,77.6 371,77.6 371.1,77.6 371.2,77.6 371.3,77.6 371.4,77.6 371.5,77.6 371.6,77.6 371.7,77.6 371.7,77.6 371.8,77.6 371.9,77.6 372,77.6 372.1,77.6 372.2,77.6 372.3,77.6 372.4,77.6 372.5,77.6 372.6,77.6 372.6,77.6 372.7,77.6 372.8,77.6 372.9,77.6 373,77.6 373.1,77.6 373.2,77.6 373.3,77.6 373.4,77.6 373.5,77.6 373.6,77.6 373.6,77.6 373.7,95 373.8,95 373.9,95 374,95 374.1,95 374.2,95 374.3,95 374.4,95 374.5,95 374.5,95 374.6,95 374.7,95 374.8,95 374.9,95 375,95 375.1,95 375.2,95 375.3,95 375.4,95 375.4,95 375.5,95 375.6,95 375.7,95 375.8,95 375.9,95 376,95 376.1,95 376.2,95 376.3,95 376.4,95 376.4,95 376.5,95 376.6,95 376.7,95 376.8,95 376.9,95 377,95 377.1,95 377.2,95 377.3,95 377.3,95 377.4,95 377.5,95 377.6,95 377.7,95 377.8,95 377.9,95 378,95 378.1,95 378.2,95 378.2,95 378.3,95 378.4,95 378.5,95 378.6,95 378.7,95 378.8,95 378.9,77.6 379,77.6 379.1,77.6 379.1,77.6 379.2,77.6 379.3,77.6 379.4,77.6 379.5,77.6 379.6,77.6 379.7,77.6 379.8,77.6 379.9,77.6 380,77.6 380.1,77.6 380.1,77.6 380.2,77.6 380.3,77.6 380.4,77.6 380.5,77.6 380.6,77.6 380.7,77.6 380.8,77.6 380.9,77.6 381,77.6 381,77.6 381.1,77.6 381.2,77.6 381.3,77.6 381.4,77.6 381.5,77.6 381.6,77.6 381.7,77.6 381.8,77.6 381.9,77.6 381.9,77.6 382,77.6 382.1,77.6 382.2,77.6 382.3,77.6 382.4,77.6 382.5,77.6 382.6,77.6 382.7,77.6 382.8,77.6 382.9,77.6 382.9,77.6 383,77.6 383.1,77.6 383.2,77.6 383.3,77.6 383.4,77.6 383.5,77.6 383.6,77.6 383.7,77.6 383.8,77.6 383.8,77.6 383.9,77.6 384,77.6 384.1,77.6 384.2,77.6 384.3,77.6 384.4,77.6 384.5,77.6 384.6,77.6 384.7,77.6 384.7,77.6 384.8,77.6 384.9,77.6 385,60.1 385.1,60.1 385.2,60.1 385.3,60.1 385.4,60.1 385.5,60.1 385.6,60.1 385.7,60.1 385.7,60.1 385.8,60.1 385.9,60.1 386,60.1 386.1,60.1 386.2,60.1 386.3,60.1 386.4,60.1 386.5,60.1 386.6,60.1 386.6,60.1 386.7,60.1 386.8,60.1 386.9,60.1 387,60.1 387.1,60.1 387.2,60.1 387.3,60.1 387.4,60.1 387.5,60.1 387.5,60.1 387.6,60.1 387.7,60.1 387.8,60.1 387.9,60.1 388,60.1 388.1,60.1 388.2,60.1 388.3,60.1 388.4,60.1 388.5,60.1 388.5,60.1 388.6,60.1 388.7,60.1 388.8,60.1 388.9,60.1 389,60.1 389.1,60.1 389.2,60.1 389.3,60.1 389.4,60.1 389.4,60.1 389.5,60.1 389.6,60.1 389.7,60.1 389.8,60.1 389.9,60.1 390,60.1 390.1,60.1 390.2,60.1 390.3,60.1 390.3,60.1 390.4,60.1 390.5,60.1 390.6,60.1 390.7,60.1 390.8,60.1 390.9,60.1 391,41.8 391.1,41.8 391.2,41.8 391.2,41.8 391.3,41.8 391.4,41.8 391.5,41.8 391.6,41.8 391.7,41.8 391.8,41.8 391.9,41.8 392,41.8 392.1,41.8 392.2,41.8 392.2,41.8 392.3,41.8 392.4,41.8 392.5,41.8 392.6,41.8 392.7,41.8 392.8,41.8 392.9,41.8 393,41.8 393.1,41.8 393.1,41.8 393.2,41.8 393.3,41.8 393.4,41.8 393.5,41.8 393.6,41.8 393.7,41.8 393.8,41.8 393.9,41.8 394,41.8 394,41.8 394.1,41.8 394.2,41.8 394.3,41.8 394.4,41.8 394.5,41.8 394.6,41.8 394.7,41.8 394.8,41.8 394.9,41.8 395,41.8 395,41.8 395.1,41.8 395.2,41.8 395.3,41.8 395.4,41.8 395.5,41.8 395.6,41.8 395.7,41.8 395.8,41.8 395.9,41.8 395.9,41.8 396,41.8 396.1,41.8 396.2,41.8 396.3,41.8 396.4,41.8 396.5,41.8 396.6,41.8 396.7,41.8 396.8,41.8 396.8,41.8 396.9,41.8 397,41.8 397.1,41.8 397.2,24.9 397.3,24.9 397.4,24.9 397.5,24.9 397.6,24.9 397.7,24.9 397.8,41.8 397.8,24.9 397.9,24.9 398,24.9 398.1,24.9 398.2,24.9 398.3,24.9 398.4,24.9 398.5,24.9 398.6,24.9 398.7,41.8 398.7,24.9 398.8,41.8 398.9,41.8 399,41.8 399.1,41.8 399.2,41.8 399.3,41.8 399.4,41.8 399.5,41.8 399.6,60.1 399.6,60.1 399.7,41.8 399.8,60.1 399.9,60.1 400,60.1 400.1,41.8 400.2,60.1 400.3,41.8 400.4,60.1 400.5,60.1 400.6,60.1 400.6,60.1 400.7,112.5 400.8,112.5 400.9,112.5 401,112.5 401.1,112.5 401.2,112.5 401.3,112.5 401.4,112.5 401.5,112.5 401.5,112.5 401.6,112.5 401.7,112.5 401.8,112.5 401.9,112.5 402,112.5 402.1,112.5 402.2,112.5 402.3,112.5 402.4,112.5 402.4,112.5 402.5,112.5 402.6,112.5 402.7,112.5 402.8,112.5 402.9,112.5 403,112.5 403.1,112.5 403.2,112.5 403.3,112.5 403.3,112.5 403.4,112.5 403.5,112.5 403.6,112.5 403.7,112.5 403.8,112.5 403.9,112.5 404,112.5 404.1,112.5 404.2,112.5 404.3,112.5 404.3,112.5 404.4,112.5 404.5,112.5 404.6,112.5 404.7,112.5 404.8,112.5 404.9,112.5 405,112.5 405.1,112.5 405.2,112.5 405.2,112.5 405.3,112.5 405.4,112.5 405.5,112.5 405.6,112.5 405.7,112.5 405.8,112.5 405.9,112.5 406,112.5 406.1,112.5 406.1,112.5 406.2,112.5 406.3,112.5 406.4,112.5 406.5,112.5 406.6,112.5 406.7,112.5 406.8,112.5 406.9,112.5 407,112.5 407.1,112.5 407.1,112.5 407.2,112.5 407.3,112.5 407.4,112.5 407.5,112.5 407.6,112.5 407.7,112.5 407.8,112.5 407.9,112.5 408,112.5 408,112.5 408.1,112.5 408.2,112.5 408.3,112.5 408.4,112.5 408.5,112.5 408.6,112.5 408.7,112.5 408.8,112.5 408.9,112.5 408.9,112.5 409,112.5 409.1,112.5 409.2,112.5 409.3,112.5 409.4,112.5 409.5,112.5 409.6,112.5 409.7,112.5 409.8,112.5 409.9,112.5 409.9,112.5 410,112.5 410.1,112.5 410.2,112.5 410.3,129.4 410.4,129.4 410.5,129.4 410.6,129.4 410.7,129.4 410.8,129.4 410.8,129.4 410.9,129.4 411,129.4 411.1,129.4 411.2,129.4 411.3,129.4 411.4,129.4 411.5,129.4 411.6,129.4 411.7,129.4 411.7,129.4 411.8,129.4 411.9,129.4 412,129.4 412.1,129.4 412.2,129.4 412.3,129.4 412.4,129.4 412.5,129.4 412.6,129.4 412.7,129.4 412.7,129.4 412.8,129.4 412.9,129.4 413,129.4 413.1,129.4 413.2,129.4 413.3,129.4 413.4,129.4 413.5,129.4 413.6,129.4 413.6,129.4 413.7,129.4 413.8,129.4 413.9,129.4 414,129.4 414.1,129.4 414.2,112.5 414.3,112.5 414.4,112.5 414.5,112.5 414.5,112.5 414.6,129.4 414.7,112.5 414.8,129.4 414.9,112.5 415,129.4 415.1,112.5 415.2,112.5 415.3,112.5 415.4,129.4 415.4,129.4 415.5,112.5 415.6,129.4 415.7,112.5 415.8,112.5 415.9,112.5 416,112.5 416.1,112.5 416.2,112.5 416.3,95 416.4,95 416.4,95 416.5,95 416.6,95 416.7,95 416.8,95 416.9,95 417,95 417.1,95 417.2,95 417.3,95 417.3,95 417.4,95 417.5,95 417.6,95 417.7,95 417.8,95 417.9,95 418,95 418.1,95 418.2,95 418.2,95 418.3,95 418.4,95 418.5,95 418.6,95 418.7,95 418.8,95 418.9,95 419,95 419.1,95 419.2,95 419.2,95 419.3,95 419.4,95 419.5,95 419.6,95 419.7,95 419.8,95 419.9,95 420,95 420.1,95 420.1,95 420.2,95 420.3,95 420.4,95 420.5,95 420.6,95 420.7,95 420.8,95 420.9,95 421,95 421,95 421.1,95 421.2,95 421.3,95 421.4,95 421.5,95 421.6,95 421.7,95 421.8,95 421.9,95 422,95 422,95 422.1,95 422.2,95 422.3,95 422.4,95 422.5,95 422.6,95 422.7,95 422.8,95 422.9,95 422.9,95 423,95 423.1,95 423.2,95 423.3,95 423.4,95 423.5,95 423.6,95 423.7,95 423.8,95 423.8,95 423.9,95 424,95 424.1,95 424.2,95 424.3,95 424.4,95 424.5,95 424.6,95 424.7,77.6 424.8,77.6 424.8,77.6 424.9,95 425,77.6 425.1,77.6 425.2,77.6 425.3,77.6 425.4,95 425.5,95 425.6,77.6 425.7,95 425.7,77.6 425.8,95 425.9,77.6 426,77.6 426.1,77.6 426.2,77.6 426.3,77.6 426.4,95 426.5,95 426.6,77.6 426.6,77.6 426.7,95 426.8,77.6 426.9,77.6 427,77.6 427.1,77.6 427.2,60.1 427.3,60.1 427.4,60.1 427.5,60.1 427.6,60.1 427.6,60.1 427.7,60.1 427.8,60.1 427.9,60.1 428,60.1 428.1,60.1 428.2,60.1 428.3,60.1 428.4,60.1 428.5,60.1 428.5,60.1 428.6,60.1 428.7,60.1 428.8,60.1 428.9,60.1 429,60.1 429.1,60.1 429.2,60.1 429.3,60.1 429.4,60.1 429.4,60.1 429.5,60.1 429.6,60.1 429.7,60.1 429.8,60.1 429.9,60.1 430,60.1 430.1,60.1 430.2,60.1 430.3,60.1 430.3,60.1 430.4,60.1 430.5,60.1 430.6,60.1 430.7,60.1 430.8,60.1 430.9,60.1 431,60.1 431.1,60.1 431.2,60.1 431.3,60.1 431.3,60.1 431.4,60.1 431.5,60.1 431.6,60.1 431.7,60.1 431.8,60.1 431.9,60.1 432,60.1 432.1,60.1 432.2,60.1 432.2,60.1 432.3,60.1 432.4,60.1 432.5,60.1 432.6,60.1 432.7,60.1 432.8,60.1 432.9,60.1 433,60.1 433.1,60.1 433.1,60.1 433.2,60.1 433.3,60.1 433.4,60.1 433.5,60.1 433.6,60.1 433.7,60.1 433.8,60.1 433.9,60.1 434,60.1 434.1,60.1 434.1,60.1 434.2,60.1 434.3,60.1 434.4,60.1 434.5,60.1 434.6,60.1 434.7,60.1 434.8,60.1 434.9,60.1 435,60.1 435,112.5 435.1,112.5 435.2,112.5 435.3,112.5 435.4,112.5 435.5,112.5 435.6,112.5 435.7,112.5 435.8,112.5 435.9,112.5 435.9,112.5 436,112.5 436.1,112.5 436.2,112.5 436.3,112.5 436.4,112.5 436.5,112.5 436.6,112.5 436.7,112.5 436.8,112.5 436.9,112.5 436.9,112.5 437,112.5 437.1,112.5 437.2,112.5 437.3,112.5 437.4,112.5 437.5,129.4 437.6,129.4 437.7,129.4 437.8,129.4 437.8,129.4 437.9,129.4 438,129.4 438.1,112.5 438.2,112.5 438.3,129.4 438.4,129.4 438.5,129.4 438.6,112.5 438.7,95 438.7,95 438.8,95 438.9,95 439,95 439.1,95 439.2,95 439.3,95 439.4,95 439.5,95 439.6,95 439.7,95 439.7,95 439.8,95 439.9,95 440,77.6 440.1,77.6 440.2,77.6 440.3,77.6 440.4,77.6 440.5,77.6 440.6,77.6 440.6,77.6 440.7,77.6 440.8,95 440.9,77.6 441,95 441.1,95 441.2,77.6 441.3,95 441.4,95 441.5,95 441.5,95 441.6,77.6 441.7,77.6 441.8,77.6 441.9,77.6 442,77.6 442.1,77.6 442.2,77.6 442.3,77.6 442.4,77.6 442.4,77.6 442.5,77.6 442.6,77.6 442.7,77.6 442.8,77.6 442.9,77.6 443,77.6 443.1,77.6 443.2,77.6 443.3,77.6 443.4,95 443.4,95 443.5,95 443.6,77.6 443.7,95 443.8,95 443.9,95 444,95 444.1,77.6 444.2,95 444.3,77.6 444.3,77.6 444.4,77.6 444.5,77.6 444.6,77.6 444.7,77.6 444.8,77.6 444.9,77.6 445,77.6 445.1,77.6 445.2,77.6 445.2,77.6 445.3,77.6 445.4,77.6 445.5,77.6 445.6,77.6 445.7,77.6 445.8,95 445.9,95 446,95 446.1,95 446.2,77.6 446.2,77.6 446.3,77.6 446.4,77.6 446.5,77.6 446.6,77.6 446.7,77.6 446.8,77.6 446.9,77.6 447,77.6 447.1,129.4 447.1,129.4 447.2,129.4 447.3,129.4 447.4,129.4 447.5,129.4 447.6,129.4 447.7,129.4 447.8,129.4 447.9,129.4 448,129.4 448,129.4 448.1,129.4 448.2,129.4 448.3,129.4 448.4,129.4 448.5,129.4 448.6,129.4 448.7,129.4 448.8,129.4 448.9,129.4 449,129.4 449,129.4 449.1,129.4 449.2,129.4 449.3,129.4 449.4,129.4 449.5,129.4 449.6,129.4 449.7,129.4 449.8,129.4 449.9,129.4 449.9,129.4 450,129.4 450.1,129.4 450.2,129.4 450.3,129.4 450.4,129.4 450.5,129.4 450.6,129.4 450.7,129.4 450.8,129.4 450.8,129.4 450.9,129.4 451,129.4 451.1,129.4 451.2,129.4 451.3,129.4 451.4,129.4 451.5,129.4 451.6,129.4 451.7,129.4 451.8,129.4 451.8,129.4 451.9,129.4 452,129.4 452.1,129.4 452.2,129.4 452.3,129.4 452.4,129.4 452.5,129.4 452.6,129.4 452.7,129.4 452.7,129.4 452.8,129.4 452.9,129.4 453,129.4 453.1,129.4 453.2,129.4 453.3,129.4 453.4,129.4 453.5,129.4 453.6,129.4 453.6,129.4 453.7,129.4 453.8,129.4 453.9,129.4 454,129.4 454.1,129.4 454.2,129.4 454.3,129.4 454.4,129.4 454.5,129.4 454.5,129.4 454.6,129.4 454.7,129.4 454.8,129.4 454.9,129.4 455,129.4 455.1,129.4 455.2,129.4 455.3,129.4 455.4,129.4 455.5,129.4 455.5,129.4 455.6,129.4 455.7,129.4 455.8,129.4 455.9,129.4 456,129.4 456.1,129.4 456.2,129.4 456.3,129.4 456.4,129.4 456.4,129.4 456.5,129.4 456.6,129.4 456.7,112.5 456.8,112.5 456.9,112.5 457,112.5 457.1,112.5 457.2,112.5 457.3,112.5 457.3,112.5 457.4,112.5 457.5,112.5 457.6,112.5 457.7,112.5 457.8,112.5 457.9,112.5 458,112.5 458.1,112.5 458.2,112.5 458.3,112.5 458.3,112.5 458.4,112.5 458.5,112.5 458.6,112.5 458.7,112.5 458.8,112.5 458.9,112.5 459,112.5 459.1,112.5 459.2,112.5 459.2,112.5 459.3,112.5 459.4,112.5 459.5,112.5 459.6,112.5 459.7,112.5 459.8,112.5 459.9,112.5 460,112.5 460.1,112.5 460.1,112.5 460.2,112.5 460.3,112.5 460.4,112.5 460.5,112.5 460.6,112.5 460.7,112.5 460.8,112.5 460.9,112.5 461,112.5 461.1,112.5 461.1,112.5 461.2,112.5 461.3,112.5 461.4,112.5 461.5,112.5 461.6,112.5 461.7,112.5 461.8,112.5 461.9,112.5 462,112.5 462,112.5 462.1,112.5 462.2,112.5 462.3,112.5 462.4,112.5 462.5,112.5 462.6,112.5 462.7,112.5 462.8,112.5 462.9,112.5 462.9,112.5 463,112.5 463.1,112.5 463.2,112.5 463.3,112.5 463.4,112.5 463.5,112.5 463.6,112.5 463.7,112.5 463.8,112.5 463.9,112.5 463.9,112.5 464,112.5 464.1,112.5 464.2,112.5 464.3,112.5 464.4,112.5 464.5,112.5 464.6,112.5 464.7,112.5 464.8,112.5 464.8,112.5 464.9,112.5 465,112.5 465.1,112.5 465.2,112.5 465.3,112.5 465.4,112.5 465.5,112.5 465.6,112.5 465.7,112.5 465.7,112.5 465.8,112.5 465.9,112.5 466,112.5 466.1,112.5 466.2,112.5 466.3,112.5 466.4,95 466.5,95 466.6,95 466.6,95 466.7,95 466.8,95 466.9,95 467,95 467.1,95 467.2,95 467.3,95 467.4,95 467.5,95 467.6,95 467.6,95 467.7,112.5 467.8,112.5 467.9,112.5 468,112.5 468.1,112.5 468.2,112.5 468.3,112.5 468.4,112.5 468.5,112.5 468.5,112.5 468.6,112.5 468.7,112.5 468.8,112.5 468.9,112.5 469,112.5 469.1,112.5 469.2,112.5 469.3,112.5 469.4,112.5 469.4,112.5 469.5,112.5 469.6,112.5 469.7,112.5 469.8,112.5 469.9,112.5 470,112.5 470.1,112.5 470.2,112.5 470.3,112.5 470.4,112.5 470.4,112.5 470.5,112.5 470.6,112.5 470.7,112.5 470.8,112.5 470.9,112.5 471,112.5 471.1,112.5 471.2,112.5 471.3,112.5 471.3,112.5 471.4,112.5 471.5,112.5 471.6,112.5 471.7,112.5 471.8,112.5 471.9,112.5 472,112.5 472.1,112.5 472.2,112.5 472.2,112.5 472.3,112.5 472.4,112.5 472.5,77.6 472.6,77.6 472.7,77.6 472.8,77.6 472.9,77.6 473,77.6 473.1,77.6 473.2,77.6 473.2,77.6 473.3,77.6 473.4,77.6 473.5,77.6 473.6,77.6 473.7,77.6 473.8,77.6 473.9,77.6 474,77.6 474.1,77.6 474.1,77.6 474.2,77.6 474.3,77.6 474.4,77.6 474.5,77.6 474.6,77.6 474.7,77.6 474.8,77.6 474.9,77.6 475,77.6 475,77.6 475.1,77.6 475.2,77.6 475.3,77.6 475.4,77.6 475.5,77.6 475.6,77.6 475.7,77.6 475.8,77.6 475.9,77.6 476,77.6 476,77.6 476.1,77.6 476.2,77.6 476.3,77.6 476.4,77.6 476.5,77.6 476.6,95 476.7,95 476.8,95 476.9,95 476.9,95 477,95 477.1,95 477.2,95 477.3,95 477.4,95 477.5,95 477.6,95 477.7,95 477.8,95 477.8,95 477.9,95 478,95 478.1,95 478.2,95 478.3,95 478.4,112.5 478.5,112.5 478.6,112.5 478.7,112.5 478.8,112.5 478.8,112.5 478.9,112.5 479,112.5 479.1,112.5 479.2,112.5 479.3,112.5 479.4,112.5 479.5,95 479.6,95 479.7,112.5 479.7,112.5 479.8,95 479.9,95 480,95 480.1,112.5 480.2,95 480.3,95 480.4,95 480.5,112.5 480.6,112.5 480.6,112.5 480.7,112.5 480.8,112.5 480.9,112.5 481,95 481.1,95 481.2,112.5 481.3,112.5 481.4,112.5 481.5,112.5 481.5,112.5 481.6,95 481.7,95 481.8,95 481.9,95 482,95 482.1,112.5 482.2,112.5 482.3,95 482.4,95 482.5,95 482.5,95 482.6,95 482.7,95 482.8,112.5 482.9,112.5 483,112.5 483.1,112.5 483.2,95 483.3,95 483.4,112.5 483.4,112.5 483.5,112.5 483.6,95 483.7,95 483.8,95 483.9,112.5 484,112.5 484.1,112.5 484.2,112.5 484.3,95 484.3,95 484.4,95 484.5,95 484.6,95 484.7,95 484.8,95 484.9,112.5 485,112.5 485.1,112.5 485.2,95 485.3,95 485.3,95 485.4,95 485.5,112.5 485.6,112.5 485.7,112.5 485.8,95 485.9,95 486,95 486.1,112.5 486.2,112.5 486.2,95 486.3,95 486.4,112.5 486.5,112.5 486.6,112.5 486.7,95 486.8,95 486.9,95 487,95 487.1,95 487.1,95 487.2,95 487.3,95 487.4,112.5 487.5,112.5 487.6,95 487.7,95 487.8,95 487.9,95 488,95 488.1,95 488.1,95 488.2,95 488.3,95 488.4,95 488.5,95 488.6,95 488.7,95 488.8,95 488.9,95 489,95 489,95 489.1,95 489.2,95 489.3,95 489.4,95 489.5,95 489.6,95 489.7,95 489.8,95 489.9,95 489.9,95 490,95 490.1,95 490.2,95 490.3,95 490.4,95 490.5,95 490.6,95 490.7,95 490.8,95 490.9,95 490.9,95 491,95 491.1,95 491.2,95 491.3,95 491.4,95 491.5,95 491.6,95 491.7,95 491.8,95 491.8,95 491.9,95 492,95 492.1,95 492.2,95 492.3,95 492.4,95 492.5,95 492.6,95 492.7,95 492.7,95 492.8,95 492.9,95 493,95 493.1,95 493.2,95 493.3,41.8 493.4,41.8 493.5,41.8 493.6,41.8 493.6,41.8 493.7,41.8 493.8,41.8 493.9,41.8 494,41.8 494.1,41.8 494.2,41.8 494.3,41.8 494.4,41.8 494.5,41.8 494.6,41.8 494.6,41.8 494.7,41.8 494.8,41.8 494.9,41.8 495,41.8 495.1,41.8 495.2,41.8 495.3,41.8 495.4,41.8 495.5,41.8 495.5,41.8 495.6,41.8 495.7,41.8 495.8,41.8 495.9,41.8 496,41.8 496.1,41.8 496.2,41.8 496.3,41.8 496.4,41.8 496.4,41.8 496.5,41.8 496.6,41.8 496.7,41.8 496.8,41.8 496.9,41.8 497,41.8 497.1,41.8 497.2,41.8 497.3,41.8 497.4,41.8 497.4,41.8 497.5,41.8 497.6,41.8 497.7,41.8 497.8,41.8 497.9,41.8 498,41.8 498.1,41.8 498.2,41.8 498.3,41.8 498.3,41.8 498.4,41.8 498.5,41.8 498.6,41.8 498.7,41.8 498.8,41.8 498.9,41.8 499,41.8 499.1,41.8 499.2,41.8 499.2,41.8 499.3,41.8 499.4,41.8 499.5,41.8 499.6,41.8 499.7,41.8 499.8,41.8 499.9,41.8 500,41.8 500.1,41.8 500.2,41.8 500.2,41.8 500.3,41.8 500.4,41.8 500.5,41.8 500.6,41.8 500.7,41.8 500.8,41.8 500.9,41.8 501,41.8 501.1,41.8 501.1,41.8 501.2,41.8 501.3,41.8 501.4,41.8 501.5,41.8 501.6,41.8 501.7,41.8 501.8,41.8 501.9,41.8 502,41.8 502,41.8 502.1,41.8 502.2,41.8 502.3,41.8 502.4,41.8 502.5,41.8 502.6,41.8 502.7,41.8 502.8,41.8 502.9,41.8 503,41.8 503,41.8 503.1,41.8 503.2,41.8 503.3,41.8 503.4,41.8 503.5,41.8 503.6,41.8 503.7,41.8 503.8,41.8 503.9,41.8 503.9,41.8 504,41.8 504.1,41.8 504.2,41.8 504.3,41.8 504.4,41.8 504.5,41.8 504.6,41.8 504.7,41.8 504.8,41.8 504.8,41.8 504.9,41.8 505,41.8 505.1,41.8 505.2,41.8 505.3,41.8 505.4,41.8 505.5,41.8 505.6,41.8 505.7,41.8 505.7,41.8 505.8,41.8 505.9,41.8 506,41.8 506.1,41.8 506.2,41.8 506.3,41.8 506.4,41.8 506.5,41.8 506.6,41.8 506.7,41.8 506.7,41.8 506.8,41.8 506.9,41.8 507,41.8 507.1,41.8 507.2,41.8 507.3,41.8 507.4,41.8 507.5,41.8 507.6,41.8 507.6,41.8 507.7,41.8 507.8,41.8 507.9,129.4 508,129.4 508.1,129.4 508.2,129.4 508.3,129.4 508.4,129.4 508.5,129.4 508.5,129.4 508.6,129.4 508.7,129.4 508.8,129.4 508.9,129.4 509,129.4 509.1,129.4 509.2,129.4 509.3,129.4 509.4,129.4 509.5,129.4 509.5,129.4 509.6,129.4 509.7,129.4 509.8,129.4 509.9,129.4 510,129.4 510.1,129.4 510.2,129.4 510.3,129.4 510.4,129.4 510.4,129.4 510.5,129.4 510.6,129.4 510.7,129.4 510.8,129.4 510.9,129.4 511,129.4 511.1,129.4 511.2,129.4 511.3,129.4 511.3,129.4 511.4,129.4 511.5,129.4 511.6,129.4 511.7,129.4 511.8,129.4 511.9,129.4 512,129.4 512.1,129.4 512.2,129.4 512.3,129.4 512.3,129.4 512.4,129.4 512.5,129.4 512.6,129.4 512.7,129.4 512.8,129.4 512.9,129.4 513,129.4 513.1,129.4 513.2,129.4 513.2,129.4 513.3,129.4 513.4,129.4 513.5,129.4 513.6,129.4 513.7,129.4 513.8,129.4 513.9,129.4 514,129.4 514.1,129.4 514.1,129.4 514.2,129.4 514.3,129.4 514.4,129.4 514.5,129.4 514.6,129.4 514.7,129.4 514.8,129.4 514.9,129.4 515,129.4 515.1,129.4 515.1,129.4 515.2,129.4 515.3,129.4 515.4,129.4 515.5,129.4 515.6,129.4 515.7,129.4 515.8,129.4 515.9,129.4 516,129.4 516,129.4 516.1,129.4 516.2,129.4 516.3,129.4 516.4,129.4 516.5,129.4 516.6,129.4 516.7,129.4 516.8,129.4 516.9,129.4 516.9,129.4 517,129.4 517.1,129.4 517.2,129.4 517.3,129.4 517.4,129.4 517.5,129.4 517.6,129.4 517.7,129.4 517.8,129.4 517.9,129.4 517.9,129.4 518,129.4 518.1,129.4 518.2,129.4 518.3,112.5 518.4,112.5 518.5,112.5 518.6,112.5 518.7,112.5 518.8,112.5 518.8,112.5 518.9,112.5 519,129.4 519.1,129.4 519.2,129.4 519.3,129.4 519.4,129.4 519.5,129.4 519.6,129.4 519.7,129.4 519.7,129.4 519.8,129.4 519.9,129.4 520,129.4 520.1,112.5 520.2,112.5 520.3,112.5 520.4,112.5 520.5,112.5 520.6,112.5 520.6,129.4 520.7,129.4 520.8,129.4 520.9,129.4 521,129.4 521.1,129.4 521.2,129.4 521.3,129.4 521.4,129.4 521.5,129.4 521.6,129.4 521.6,129.4 521.7,112.5 521.8,112.5 521.9,112.5 522,112.5 522.1,112.5 522.2,112.5 522.3,112.5 522.4,112.5 522.5,112.5 522.5,112.5 522.6,112.5 522.7,112.5 522.8,112.5 522.9,112.5 523,112.5 523.1,112.5 523.2,112.5 523.3,112.5 523.4,112.5 523.4,112.5 523.5,112.5 523.6,112.5 523.7,112.5 523.8,112.5 523.9,112.5 524,112.5 524.1,112.5 524.2,112.5 524.3,112.5 524.4,112.5 524.4,112.5 524.5,112.5 524.6,112.5 524.7,112.5 524.8,112.5 524.9,112.5 525,112.5 525.1,112.5 525.2,112.5 525.3,112.5 525.3,112.5 525.4,112.5 525.5,112.5 525.6,112.5 525.7,112.5 525.8,112.5 525.9,112.5 526,112.5 526.1,112.5 526.2,112.5 526.2,112.5 526.3,112.5 526.4,112.5 526.5,112.5 526.6,112.5 526.7,112.5 526.8,112.5 526.9,112.5 527,112.5 527.1,112.5 527.2,112.5 527.2,112.5 527.3,112.5 527.4,112.5 527.5,112.5 527.6,112.5 527.7,112.5 527.8,112.5 527.9,112.5 528,112.5 528.1,112.5 528.1,112.5 528.2,112.5 528.3,112.5 528.4,112.5 528.5,112.5 528.6,112.5 528.7,112.5 528.8,112.5 528.9,112.5 529,112.5 529,112.5 529.1,112.5 529.2,112.5 529.3,112.5 529.4,112.5 529.5,112.5 529.6,112.5 529.7,112.5 529.8,112.5 529.9,112.5 530,112.5 530,112.5 530.1,112.5 530.2,112.5 530.3,112.5 530.4,112.5 530.5,112.5 530.6,112.5 530.7,112.5 530.8,112.5 530.9,112.5 530.9,112.5 531,112.5 531.1,112.5 531.2,112.5 531.3,112.5 531.4,112.5 531.5,112.5 531.6,112.5 531.7,112.5 531.8,112.5 531.8,112.5 531.9,112.5 532,112.5 532.1,112.5 532.2,112.5 532.3,112.5 532.4,112.5 532.5,112.5 532.6,112.5 532.7,112.5 532.7,112.5 532.8,112.5 532.9,112.5 533,112.5 533.1,112.5 533.2,112.5 533.3,112.5 533.4,112.5 533.5,112.5 533.6,112.5 533.7,112.5 533.7,112.5 533.8,112.5 533.9,112.5 534,112.5 534.1,112.5 534.2,112.5 534.3,112.5 534.4,112.5 534.5,112.5 534.6,112.5 534.6,112.5 534.7,112.5 534.8,112.5 534.9,112.5 535,112.5 535.1,112.5 535.2,112.5 535.3,112.5 535.4,112.5 535.5,112.5 535.5,112.5 535.6,112.5 535.7,112.5 535.8,112.5 535.9,112.5 536,112.5 536.1,112.5 536.2,112.5 536.3,112.5 536.4,112.5 536.5,112.5 536.5,112.5 536.6,112.5 536.7,112.5 536.8,112.5 536.9,112.5 537,112.5 537.1,112.5 537.2,112.5 537.3,112.5 537.4,112.5 537.4,112.5 537.5,112.5 537.6,112.5 537.7,112.5 537.8,112.5 537.9,112.5 538,112.5 538.1,112.5 538.2,112.5 538.3,112.5 538.3,112.5 538.4,112.5 538.5,112.5 538.6,112.5 538.7,112.5 538.8,112.5" fill="none" stroke="#2c2c2c" stroke-width="0.9" stroke-linejoin="round" marker-start="url(#m8)" marker-mid="url(#m8)" marker-end="url(#m8)"/></g>
<rect x="322.3" y="5.4" width="225.1" height="183.1" fill="none" stroke="#5a5a5a" stroke-width="1.05"/>
<path d="M331.2 188.5v4.6M376.4 188.5v4.6M421.5 188.5v4.6M466.6 188.5v4.6M511.8 188.5v4.6M322.3 181.5h-4.8M322.3 153.3h-4.8M322.3 125.2h-4.8M322.3 97h-4.8M322.3 68.8h-4.8M322.3 40.7h-4.8M322.3 12.5h-4.8" stroke="#5a5a5a" stroke-width="0.9" fill="none"/>
<path d="M472.5 5V188.5" stroke="#4a4a4a" stroke-width="1" stroke-dasharray="2 1.7" fill="none"/>
<g font-family="'Liberation Sans', sans-serif" fill="#000" stroke="#000" stroke-width="0.22">
<text x="331.2" y="205.5" font-size="8.3" text-anchor="middle">0</text>
<text x="376.4" y="205.5" font-size="8.3" text-anchor="middle">500</text>
<text x="421.5" y="205.5" font-size="8.3" text-anchor="middle">1000</text>
<text x="466.6" y="205.5" font-size="8.3" text-anchor="middle">1500</text>
<text x="511.8" y="205.5" font-size="8.3" text-anchor="middle">2000</text>
<text transform="translate(312.9 181.5) rotate(-90)" font-size="8.3" text-anchor="middle">-3</text>
<text transform="translate(312.9 153.3) rotate(-90)" font-size="8.3" text-anchor="middle">-2</text>
<text transform="translate(312.9 125.2) rotate(-90)" font-size="8.3" text-anchor="middle">-1</text>
<text transform="translate(312.9 97) rotate(-90)" font-size="8.3" text-anchor="middle">0</text>
<text transform="translate(312.9 68.8) rotate(-90)" font-size="8.3" text-anchor="middle">1</text>
<text transform="translate(312.9 40.7) rotate(-90)" font-size="8.3" text-anchor="middle">2</text>
<text transform="translate(312.9 12.5) rotate(-90)" font-size="8.3" text-anchor="middle">3</text>
<text x="433.3" y="222" font-size="9.55" text-anchor="middle">sample k for wafer i</text>
<text transform="translate(294.2 97) rotate(-90)" font-size="10.0" text-anchor="middle">process variable  8</text>
<text x="472.5" y="184.8" font-size="7.9" text-anchor="middle" fill="#505050" stroke="none">1565</text>
</g>
<text x="430.8" y="241.9" font-family="'Liberation Serif', serif" font-size="16" text-anchor="middle" fill="#000" stroke="#000" stroke-width="0.25">V8</text>
<!-- V9 -->
<clipPath id="c9"><rect x="41.4" y="271" width="206.6" height="180.5"/></clipPath>
<marker id="m9" viewBox="-4 -4 8 8" markerWidth="8" markerHeight="8" markerUnits="userSpaceOnUse" refX="0" refY="0" overflow="visible"><circle r="0.78" fill="#000"/></marker>
<g clip-path="url(#c9)"><path d="M48.4 282.8H51.0V365.0H48.4ZM61.1 282.8H63.0V365.0H61.1ZM71.8 282.8H73.7V365.0H71.8ZM87.0 282.8H88.6V365.0H87.0ZM101.0 282.8H102.9V365.0H101.0ZM120.6 282.8H123.3V365.0H120.6ZM136.6 282.8H157.5V365.0H136.6ZM197.0 282.8H200.2V365.0H197.0ZM202.0 282.8H206.6V365.0H202.0ZM218.0 282.8H221.0V365.0H218.0ZM226.0 282.8H230.6V365.0H226.0ZM235.7 282.8H238.0V365.0H235.7Z" fill="#bbbbbb"/><path d="M112.5 282.8H113.8V365.0H112.5ZM163.2 282.8H167.0V365.0H163.2ZM170.5 282.8H173.3V365.0H170.5ZM183.8 282.8H189.5V365.0H183.8ZM209.7 282.8H213.0V365.0H209.7ZM221.0 282.8H225.0V365.0H221.0ZM230.6 282.8H235.7V365.0H230.6Z" fill="#989898"/><path d="M118.2 282.8H119.5V365.0H118.2ZM123.9 282.8H126.5V365.0H123.9ZM180.0 282.8H182.0V365.0H180.0ZM213.0 282.8H218.0V365.0H213.0Z" fill="#636363"/><path d="M47.8 282.8H51.6M60.5 282.8H63.6M71.2 282.8H74.3M86.4 282.8H89.2M100.4 282.8H103.5M120.0 282.8H123.9M136.0 282.8H158.1M196.4 282.8H200.8M201.4 282.8H207.2M217.4 282.8H221.6M225.4 282.8H231.2M235.1 282.8H238.6M111.9 282.8H114.4M162.6 282.8H167.6M169.9 282.8H173.9M183.2 282.8H190.1M209.1 282.8H213.6M220.4 282.8H225.6M230.0 282.8H236.3M117.6 282.8H120.1M123.3 282.8H127.1M179.4 282.8H182.6M212.4 282.8H218.6" stroke="#000" stroke-width="1.7" fill="none"/><path d="M47.7 365.0H241.0" stroke="#000" stroke-width="2.3" fill="none"/><polyline points="48.6,365 48.7,365 48.8,365 48.8,365 48.9,365 49,365 49.1,365 49.2,365 49.3,365 49.3,365 49.4,365 49.5,365 49.6,365 49.7,365 49.8,365 49.8,365 49.9,365 50,365 50.1,365 50.2,365 50.3,365 50.3,365 50.4,365 50.5,365 50.6,365 50.7,365 50.8,365 50.8,365 50.9,365 51,365 51.1,365 51.2,365 51.3,365 51.3,365 51.4,365 51.5,365 51.6,365 51.7,365 51.8,365 51.8,365 51.9,365 52,365 52.1,365 52.2,365 52.3,365 52.3,365 52.4,365 52.5,365 52.6,365 52.7,365 52.8,365 52.8,365 52.9,282.8 53,365 53.1,282.8 53.2,282.8 53.3,365 53.3,365 53.4,365 53.5,365 53.6,365 53.7,365 53.8,365 53.8,365 53.9,365 54,365 54.1,365 54.2,365 54.3,365 54.3,365 54.4,365 54.5,365 54.6,365 54.7,365 54.8,365 54.8,282.8 54.9,282.8 55,365 55.1,282.8 55.2,365 55.3,365 55.3,365 55.4,365 55.5,365 55.6,365 55.7,365 55.8,365 55.8,365 55.9,365 56,365 56.1,365 56.2,365 56.3,282.8 56.3,365 56.4,365 56.5,365 56.6,365 56.7,365 56.8,365 56.8,365 56.9,365 57,365 57.1,365 57.2,365 57.3,365 57.3,365 57.4,365 57.5,365 57.6,365 57.7,365 57.8,365 57.8,365 57.9,365 58,365 58.1,365 58.2,365 58.3,365 58.3,365 58.4,365 58.5,365 58.6,365 58.7,365 58.8,365 58.8,365 58.9,365 59,365 59.1,365 59.2,365 59.3,365 59.3,365 59.4,365 59.5,365 59.6,365 59.7,365 59.8,365 59.8,365 59.9,365 60,365 60.1,365 60.2,365 60.3,365 60.3,365 60.4,365 60.5,365 60.6,365 60.7,365 60.8,365 60.8,365 60.9,365 61,365 61.1,365 61.2,365 61.3,365 61.3,365 61.4,365 61.5,365 61.6,365 61.7,365 61.8,365 61.8,365 61.9,365 62,365 62.1,365 62.2,365 62.3,365 62.3,365 62.4,365 62.5,365 62.6,365 62.7,365 62.8,365 62.8,365 62.9,324.6 63,365 63.1,324.6 63.2,365 63.3,365 63.3,365 63.4,365 63.5,365 63.6,365 63.7,365 63.8,365 63.8,365 63.9,365 64,365 64.1,365 64.2,365 64.3,365 64.3,365 64.4,365 64.5,365 64.6,365 64.7,365 64.8,365 64.8,365 64.9,365 65,365 65.1,365 65.2,282.8 65.3,282.8 65.3,365 65.4,282.8 65.5,365 65.6,365 65.7,365 65.8,365 65.8,365 65.9,365 66,365 66.1,365 66.2,365 66.3,365 66.3,365 66.4,365 66.5,365 66.6,365 66.7,365 66.8,365 66.8,365 66.9,365 67,365 67.1,365 67.2,365 67.3,365 67.3,365 67.4,365 67.5,365 67.6,365 67.7,365 67.8,365 67.8,365 67.9,365 68,365 68.1,365 68.2,365 68.3,365 68.3,365 68.4,365 68.5,365 68.6,365 68.7,365 68.8,365 68.8,365 68.9,365 69,365 69.1,365 69.2,365 69.3,365 69.3,365 69.4,365 69.5,365 69.6,365 69.7,365 69.8,365 69.8,365 69.9,365 70,365 70.1,365 70.2,365 70.3,365 70.3,365 70.4,365 70.5,365 70.6,365 70.7,365 70.8,365 70.8,365 70.9,365 71,365 71.1,365 71.2,365 71.3,365 71.3,365 71.4,365 71.5,365 71.6,365 71.7,365 71.8,365 71.8,365 71.9,365 72,365 72.1,365 72.2,365 72.3,365 72.3,365 72.4,365 72.5,365 72.6,365 72.7,324.6 72.8,365 72.8,324.6 72.9,324.6 73,324.6 73.1,365 73.2,365 73.3,365 73.3,365 73.4,365 73.5,365 73.6,365 73.7,365 73.8,365 73.8,365 73.9,365 74,365 74.1,365 74.2,365 74.3,365 74.3,365 74.4,365 74.5,365 74.6,365 74.7,365 74.8,365 74.8,365 74.9,365 75,365 75.1,365 75.2,365 75.3,365 75.3,365 75.4,365 75.5,365 75.6,365 75.7,365 75.8,365 75.8,365 75.9,365 76,365 76.1,365 76.2,365 76.3,365 76.3,365 76.4,365 76.5,365 76.6,365 76.7,365 76.8,365 76.8,365 76.9,282.8 77,365 77.1,365 77.2,365 77.3,365 77.3,365 77.4,365 77.5,365 77.6,365 77.7,365 77.8,365 77.8,365 77.9,365 78,365 78.1,365 78.2,365 78.3,365 78.3,365 78.4,365 78.5,365 78.6,365 78.7,365 78.8,365 78.8,365 78.9,365 79,365 79.1,365 79.2,365 79.3,365 79.3,365 79.4,365 79.5,365 79.6,365 79.7,365 79.8,365 79.8,365 79.9,365 80,365 80.1,365 80.2,365 80.3,365 80.3,365 80.4,365 80.5,365 80.6,365 80.7,365 80.8,365 80.8,365 80.9,365 81,365 81.1,365 81.2,365 81.3,365 81.3,365 81.4,365 81.5,365 81.6,282.8 81.7,365 81.8,365 81.8,365 81.9,365 82,365 82.1,365 82.2,365 82.3,365 82.3,365 82.4,365 82.5,365 82.6,365 82.7,365 82.8,365 82.8,365 82.9,365 83,365 83.1,365 83.2,365 83.3,365 83.3,365 83.4,365 83.5,365 83.6,365 83.7,365 83.8,365 83.8,365 83.9,365 84,365 84.1,365 84.2,365 84.3,365 84.3,365 84.4,365 84.5,365 84.6,365 84.7,365 84.8,365 84.8,365 84.9,365 85,365 85.1,365 85.2,365 85.3,365 85.3,365 85.4,365 85.5,365 85.6,365 85.7,365 85.8,365 85.8,365 85.9,365 86,365 86.1,365 86.2,365 86.3,365 86.3,365 86.4,365 86.5,365 86.6,365 86.7,365 86.8,365 86.8,365 86.9,365 87,365 87.1,365 87.2,365 87.3,365 87.3,365 87.4,365 87.5,365 87.6,365 87.7,324.6 87.8,365 87.8,324.6 87.9,365 88,365 88.1,365 88.2,365 88.3,365 88.3,365 88.4,365 88.5,365 88.6,365 88.7,365 88.8,365 88.8,365 88.9,365 89,365 89.1,365 89.2,365 89.3,365 89.3,365 89.4,365 89.5,282.8 89.6,282.8 89.7,365 89.8,365 89.8,365 89.9,365 90,365 90.1,365 90.2,365 90.2,365 90.3,365 90.4,365 90.5,365 90.6,365 90.7,365 90.7,365 90.8,365 90.9,365 91,365 91.1,365 91.2,365 91.2,365 91.3,365 91.4,365 91.5,365 91.6,282.8 91.7,365 91.7,365 91.8,365 91.9,282.8 92,365 92.1,282.8 92.2,365 92.2,365 92.3,365 92.4,282.8 92.5,365 92.6,365 92.7,282.8 92.7,365 92.8,282.8 92.9,365 93,365 93.1,282.8 93.2,365 93.2,365 93.3,365 93.4,365 93.5,365 93.6,365 93.7,365 93.7,365 93.8,365 93.9,365 94,365 94.1,365 94.2,365 94.2,365 94.3,365 94.4,365 94.5,365 94.6,365 94.7,365 94.7,365 94.8,365 94.9,365 95,365 95.1,365 95.2,365 95.2,365 95.3,365 95.4,365 95.5,365 95.6,365 95.7,365 95.7,365 95.8,365 95.9,365 96,365 96.1,365 96.2,365 96.2,365 96.3,365 96.4,365 96.5,365 96.6,365 96.7,365 96.7,365 96.8,365 96.9,365 97,365 97.1,365 97.2,365 97.2,365 97.3,365 97.4,365 97.5,365 97.6,365 97.7,365 97.7,365 97.8,365 97.9,365 98,365 98.1,365 98.2,365 98.2,365 98.3,365 98.4,365 98.5,365 98.6,365 98.7,365 98.7,365 98.8,365 98.9,365 99,365 99.1,365 99.2,365 99.2,365 99.3,365 99.4,365 99.5,365 99.6,365 99.7,365 99.7,365 99.8,365 99.9,365 100,365 100.1,365 100.2,365 100.2,365 100.3,365 100.4,365 100.5,365 100.6,365 100.7,365 100.7,365 100.8,365 100.9,365 101,365 101.1,365 101.2,365 101.2,365 101.3,365 101.4,365 101.5,365 101.6,365 101.7,365 101.7,365 101.8,365 101.9,365 102,365 102.1,365 102.2,365 102.2,365 102.3,365 102.4,365 102.5,365 102.6,365 102.7,365 102.7,365 102.8,365 102.9,365 103,365 103.1,365 103.2,365 103.2,365 103.3,282.8 103.4,365 103.5,282.8 103.6,282.8 103.7,365 103.7,365 103.8,365 103.9,365 104,365 104.1,365 104.2,365 104.2,365 104.3,365 104.4,365 104.5,365 104.6,365 104.7,365 104.7,365 104.8,365 104.9,365 105,365 105.1,365 105.2,365 105.2,365 105.3,365 105.4,365 105.5,365 105.6,365 105.7,365 105.7,365 105.8,365 105.9,365 106,365 106.1,365 106.2,365 106.2,365 106.3,365 106.4,365 106.5,365 106.6,365 106.7,282.8 106.7,324.6 106.8,365 106.9,324.6 107,324.6 107.1,365 107.2,365 107.2,365 107.3,365 107.4,365 107.5,365 107.6,365 107.7,365 107.7,365 107.8,365 107.9,365 108,365 108.1,365 108.2,365 108.2,365 108.3,365 108.4,365 108.5,365 108.6,365 108.7,365 108.7,365 108.8,365 108.9,365 109,365 109.1,365 109.2,365 109.2,365 109.3,365 109.4,365 109.5,365 109.6,365 109.7,365 109.7,365 109.8,365 109.9,365 110,365 110.1,365 110.2,365 110.2,365 110.3,365 110.4,365 110.5,365 110.6,365 110.7,365 110.7,365 110.8,365 110.9,365 111,365 111.1,365 111.2,365 111.2,365 111.3,365 111.4,365 111.5,365 111.6,365 111.7,365 111.7,365 111.8,365 111.9,365 112,365 112.1,365 112.2,365 112.2,365 112.3,365 112.4,365 112.5,365 112.6,365 112.7,365 112.7,365 112.8,282.8 112.9,282.8 113,365 113.1,282.8 113.2,365 113.2,365 113.3,365 113.4,365 113.5,365 113.6,365 113.7,365 113.7,365 113.8,365 113.9,365 114,365 114.1,365 114.2,365 114.2,365 114.3,365 114.4,365 114.5,365 114.6,365 114.7,365 114.7,365 114.8,365 114.9,365 115,365 115.1,365 115.2,282.8 115.2,365 115.3,282.8 115.4,365 115.5,365 115.6,365 115.7,282.8 115.7,365 115.8,365 115.9,365 116,282.8 116.1,282.8 116.2,365 116.2,365 116.3,365 116.4,365 116.5,365 116.6,365 116.7,365 116.7,365 116.8,365 116.9,365 117,365 117.1,365 117.2,365 117.2,365 117.3,365 117.4,365 117.5,365 117.6,365 117.7,365 117.7,365 117.8,365 117.9,365 118,365 118.1,365 118.2,365 118.2,365 118.3,365 118.4,365 118.5,365 118.6,365 118.7,365 118.7,365 118.8,365 118.9,365 119,365 119.1,365 119.2,365 119.2,365 119.3,365 119.4,365 119.5,365 119.6,365 119.7,365 119.7,365 119.8,365 119.9,365 120,365 120.1,365 120.2,365 120.2,365 120.3,365 120.4,365 120.5,365 120.6,365 120.7,365 120.7,365 120.8,365 120.9,365 121,365 121.1,365 121.2,365 121.2,365 121.3,365 121.4,365 121.5,365 121.6,365 121.7,365 121.7,365 121.8,365 121.9,365 122,365 122.1,365 122.2,365 122.2,365 122.3,365 122.4,324.6 122.5,324.6 122.6,365 122.7,365 122.7,365 122.8,365 122.9,365 123,365 123.1,365 123.2,365 123.2,365 123.3,365 123.4,365 123.5,365 123.6,365 123.7,365 123.7,365 123.8,365 123.9,365 124,365 124.1,365 124.2,365 124.2,365 124.3,365 124.4,365 124.5,365 124.6,365 124.7,365 124.7,365 124.8,282.8 124.9,365 125,282.8 125.1,365 125.2,282.8 125.2,365 125.3,365 125.4,365 125.5,365 125.6,365 125.7,365 125.7,365 125.8,365 125.9,365 126,365 126.1,365 126.2,365 126.2,365 126.3,365 126.4,365 126.5,365 126.6,365 126.7,365 126.7,365 126.8,365 126.9,365 127,365 127.1,365 127.2,365 127.2,365 127.3,365 127.4,365 127.5,365 127.6,365 127.7,365 127.7,365 127.8,365 127.9,365 128,365 128.1,365 128.2,365 128.2,365 128.3,365 128.4,365 128.5,365 128.6,365 128.7,365 128.7,365 128.8,365 128.9,365 129,365 129.1,365 129.2,365 129.2,365 129.3,365 129.4,365 129.5,365 129.6,365 129.7,365 129.7,365 129.8,365 129.9,365 130,365 130.1,365 130.2,365 130.2,365 130.3,282.8 130.4,365 130.5,365 130.6,365 130.7,365 130.7,365 130.8,365 130.9,365 131,365 131.1,365 131.2,365 131.2,365 131.3,365 131.4,365 131.5,365 131.6,365 131.7,365 131.7,365 131.8,365 131.9,365 132,365 132.1,365 132.1,365 132.2,365 132.3,365 132.4,365 132.5,365 132.6,365 132.6,365 132.7,365 132.8,365 132.9,365 133,365 133.1,365 133.1,365 133.2,365 133.3,365 133.4,282.8 133.5,365 133.6,365 133.6,365 133.7,365 133.8,365 133.9,365 134,365 134.1,365 134.1,365 134.2,365 134.3,365 134.4,365 134.5,365 134.6,365 134.6,365 134.7,365 134.8,365 134.9,365 135,365 135.1,365 135.1,365 135.2,365 135.3,365 135.4,365 135.5,365 135.6,365 135.6,365 135.7,365 135.8,365 135.9,365 136,365 136.1,365 136.1,365 136.2,365 136.3,365 136.4,365 136.5,365 136.6,365 136.6,365 136.7,365 136.8,365 136.9,365 137,365 137.1,365 137.1,365 137.2,365 137.3,365 137.4,365 137.5,365 137.6,365 137.6,365 137.7,365 137.8,365 137.9,365 138,365 138.1,365 138.1,365 138.2,365 138.3,365 138.4,365 138.5,365 138.6,365 138.6,365 138.7,365 138.8,365 138.9,365 139,365 139.1,365 139.1,365 139.2,365 139.3,365 139.4,365 139.5,324.6 139.6,365 139.6,365 139.7,324.6 139.8,324.6 139.9,365 140,365 140.1,365 140.1,365 140.2,365 140.3,365 140.4,365 140.5,365 140.6,365 140.6,365 140.7,365 140.8,365 140.9,365 141,365 141.1,365 141.1,365 141.2,365 141.3,365 141.4,365 141.5,365 141.6,365 141.6,365 141.7,365 141.8,365 141.9,365 142,365 142.1,365 142.1,365 142.2,365 142.3,365 142.4,365 142.5,324.6 142.6,282.8 142.6,324.6 142.7,365 142.8,282.8 142.9,324.6 143,365 143.1,365 143.1,365 143.2,365 143.3,365 143.4,365 143.5,365 143.6,365 143.6,365 143.7,365 143.8,365 143.9,365 144,365 144.1,465.1 144.1,365 144.2,465.1 144.3,365 144.4,365 144.5,365 144.6,365 144.6,365 144.7,365 144.8,365 144.9,365 145,365 145.1,365 145.1,365 145.2,324.6 145.3,324.6 145.4,365 145.5,365 145.6,324.6 145.6,365 145.7,365 145.8,365 145.9,365 146,365 146.1,365 146.1,365 146.2,365 146.3,365 146.4,365 146.5,365 146.6,365 146.6,365 146.7,365 146.8,365 146.9,365 147,365 147.1,365 147.1,365 147.2,365 147.3,365 147.4,324.6 147.5,365 147.6,324.6 147.6,365 147.7,324.6 147.8,365 147.9,365 148,365 148.1,365 148.1,365 148.2,365 148.3,365 148.4,446.6 148.5,365 148.6,365 148.6,365 148.7,365 148.8,365 148.9,365 149,365 149.1,365 149.1,365 149.2,365 149.3,365 149.4,365 149.5,365 149.6,365 149.6,365 149.7,282.8 149.8,365 149.9,365 150,282.8 150.1,365 150.1,365 150.2,365 150.3,365 150.4,365 150.5,365 150.6,365 150.6,365 150.7,365 150.8,365 150.9,324.6 151,365 151.1,324.6 151.1,324.6 151.2,365 151.3,365 151.4,365 151.5,365 151.6,365 151.6,365 151.7,365 151.8,365 151.9,365 152,365 152.1,365 152.1,365 152.2,365 152.3,365 152.4,365 152.5,365 152.6,365 152.6,365 152.7,365 152.8,365 152.9,365 153,365 153.1,365 153.1,365 153.2,365 153.3,365 153.4,365 153.5,365 153.6,365 153.6,365 153.7,365 153.8,365 153.9,365 154,365 154.1,365 154.1,324.6 154.2,324.6 154.3,365 154.4,365 154.5,324.6 154.6,365 154.6,365 154.7,365 154.8,365 154.9,365 155,365 155.1,365 155.1,365 155.2,365 155.3,365 155.4,365 155.5,365 155.6,365 155.6,365 155.7,365 155.8,365 155.9,365 156,365 156.1,365 156.1,365 156.2,365 156.3,365 156.4,365 156.5,365 156.6,365 156.6,365 156.7,365 156.8,365 156.9,365 157,365 157.1,365 157.1,365 157.2,365 157.3,324.6 157.4,365 157.5,324.6 157.6,282.8 157.6,324.6 157.7,365 157.8,365 157.9,365 158,365 158.1,365 158.1,365 158.2,365 158.3,365 158.4,365 158.5,365 158.6,365 158.6,365 158.7,365 158.8,365 158.9,365 159,365 159.1,365 159.1,365 159.2,365 159.3,365 159.4,365 159.5,365 159.6,365 159.6,365 159.7,365 159.8,365 159.9,365 160,365 160.1,365 160.1,365 160.2,365 160.3,365 160.4,365 160.5,365 160.6,365 160.6,365 160.7,365 160.8,365 160.9,365 161,365 161.1,365 161.1,365 161.2,365 161.3,365 161.4,365 161.5,365 161.6,365 161.6,365 161.7,365 161.8,365 161.9,365 162,365 162.1,365 162.1,365 162.2,365 162.3,365 162.4,365 162.5,365 162.6,365 162.6,365 162.7,365 162.8,365 162.9,365 163,365 163.1,365 163.1,365 163.2,365 163.3,365 163.4,365 163.5,365 163.6,365 163.6,365 163.7,365 163.8,324.6 163.9,365 164,365 164.1,365 164.1,324.6 164.2,365 164.3,365 164.4,365 164.5,365 164.6,324.6 164.6,365 164.7,365 164.8,324.6 164.9,365 165,324.6 165.1,365 165.1,365 165.2,365 165.3,324.6 165.4,365 165.5,365 165.6,365 165.6,365 165.7,365 165.8,324.6 165.9,365 166,365 166.1,324.6 166.1,365 166.2,365 166.3,365 166.4,365 166.5,324.6 166.6,365 166.6,365 166.7,365 166.8,365 166.9,365 167,365 167.1,365 167.1,365 167.2,365 167.3,365 167.4,365 167.5,365 167.6,365 167.6,365 167.7,365 167.8,365 167.9,365 168,365 168.1,365 168.1,365 168.2,365 168.3,365 168.4,365 168.5,365 168.6,365 168.6,365 168.7,365 168.8,365 168.9,365 169,365 169.1,365 169.1,365 169.2,365 169.3,365 169.4,365 169.5,365 169.6,365 169.6,365 169.7,365 169.8,365 169.9,365 170,365 170.1,365 170.1,365 170.2,365 170.3,365 170.4,365 170.5,365 170.6,365 170.6,365 170.7,365 170.8,365 170.9,365 171,365 171.1,365 171.1,365 171.2,365 171.3,324.6 171.4,365 171.5,324.6 171.6,365 171.6,324.6 171.7,365 171.8,365 171.9,365 172,365 172.1,365 172.1,365 172.2,365 172.3,365 172.4,365 172.5,365 172.6,365 172.6,324.6 172.7,365 172.8,324.6 172.9,324.6 173,365 173.1,365 173.1,365 173.2,365 173.3,365 173.4,365 173.5,365 173.6,365 173.6,365 173.7,365 173.8,365 173.9,365 174,365 174,365 174.1,365 174.2,365 174.3,365 174.4,365 174.5,365 174.5,365 174.6,365 174.7,365 174.8,365 174.9,365 175,365 175,365 175.1,365 175.2,365 175.3,365 175.4,365 175.5,365 175.5,365 175.6,365 175.7,365 175.8,365 175.9,365 176,365 176,365 176.1,365 176.2,365 176.3,282.8 176.4,365 176.5,365 176.5,365 176.6,365 176.7,365 176.8,365 176.9,365 177,282.8 177,365 177.1,365 177.2,365 177.3,365 177.4,365 177.5,365 177.5,365 177.6,282.8 177.7,365 177.8,365 177.9,282.8 178,365 178,365 178.1,365 178.2,365 178.3,365 178.4,282.8 178.5,465.1 178.5,365 178.6,365 178.7,465.1 178.8,365 178.9,465.1 179,282.8 179,365 179.1,365 179.2,365 179.3,282.8 179.4,365 179.5,365 179.5,365 179.6,365 179.7,365 179.8,365 179.9,365 180,282.8 180,365 180.1,365 180.2,365 180.3,365 180.4,365 180.5,365 180.5,365 180.6,365 180.7,365 180.8,365 180.9,365 181,365 181,365 181.1,365 181.2,365 181.3,365 181.4,365 181.5,365 181.5,365 181.6,365 181.7,365 181.8,324.6 181.9,324.6 182,365 182,324.6 182.1,365 182.2,365 182.3,365 182.4,365 182.5,365 182.5,365 182.6,365 182.7,365 182.8,365 182.9,365 183,365 183,365 183.1,365 183.2,365 183.3,365 183.4,365 183.5,365 183.5,365 183.6,365 183.7,365 183.8,365 183.9,365 184,365 184,365 184.1,365 184.2,365 184.3,365 184.4,365 184.5,365 184.5,365 184.6,365 184.7,365 184.8,365 184.9,365 185,324.6 185,324.6 185.1,365 185.2,324.6 185.3,365 185.4,365 185.5,365 185.5,365 185.6,365 185.7,365 185.8,365 185.9,365 186,365 186,365 186.1,365 186.2,365 186.3,365 186.4,282.8 186.5,365 186.5,365 186.6,282.8 186.7,365 186.8,365 186.9,365 187,365 187,365 187.1,365 187.2,365 187.3,365 187.4,365 187.5,365 187.5,365 187.6,365 187.7,365 187.8,365 187.9,365 188,365 188,365 188.1,365 188.2,365 188.3,365 188.4,365 188.5,365 188.5,365 188.6,365 188.7,324.6 188.8,365 188.9,324.6 189,324.6 189,365 189.1,365 189.2,365 189.3,365 189.4,365 189.5,365 189.5,365 189.6,365 189.7,365 189.8,365 189.9,365 190,365 190,365 190.1,365 190.2,365 190.3,365 190.4,365 190.5,365 190.5,365 190.6,365 190.7,365 190.8,365 190.9,365 191,365 191,365 191.1,365 191.2,324.6 191.3,365 191.4,324.6 191.5,324.6 191.5,365 191.6,365 191.7,365 191.8,365 191.9,365 192,365 192,365 192.1,365 192.2,365 192.3,365 192.4,365 192.5,365 192.5,365 192.6,365 192.7,365 192.8,365 192.9,365 193,365 193,365 193.1,365 193.2,365 193.3,365 193.4,365 193.5,365 193.5,365 193.6,365 193.7,365 193.8,365 193.9,365 194,365 194,365 194.1,365 194.2,365 194.3,365 194.4,365 194.5,365 194.5,365 194.6,365 194.7,365 194.8,365 194.9,365 195,365 195,365 195.1,365 195.2,365 195.3,365 195.4,365 195.5,365 195.5,365 195.6,365 195.7,365 195.8,365 195.9,365 196,365 196,365 196.1,365 196.2,365 196.3,365 196.4,365 196.5,365 196.5,365 196.6,365 196.7,365 196.8,365 196.9,365 197,365 197,365 197.1,365 197.2,365 197.3,365 197.4,365 197.5,365 197.5,365 197.6,365 197.7,365 197.8,365 197.9,365 198,365 198,365 198.1,365 198.2,365 198.3,365 198.4,365 198.5,365 198.5,365 198.6,365 198.7,365 198.8,365 198.9,365 199,365 199,365 199.1,365 199.2,365 199.3,365 199.4,365 199.5,365 199.5,365 199.6,365 199.7,365 199.8,365 199.9,365 200,365 200,365 200.1,365 200.2,365 200.3,365 200.4,365 200.5,365 200.5,365 200.6,365 200.7,365 200.8,365 200.9,365 201,365 201,365 201.1,365 201.2,365 201.3,365 201.4,365 201.5,365 201.5,365 201.6,365 201.7,365 201.8,365 201.9,365 202,365 202,365 202.1,365 202.2,365 202.3,365 202.4,365 202.5,365 202.5,365 202.6,365 202.7,365 202.8,365 202.9,365 203,365 203,365 203.1,365 203.2,365 203.3,365 203.4,365 203.5,365 203.5,365 203.6,365 203.7,365 203.8,365 203.9,365 204,365 204,365 204.1,365 204.2,365 204.3,365 204.4,365 204.5,365 204.5,324.6 204.6,365 204.7,324.6 204.8,324.6 204.9,365 205,365 205,365 205.1,365 205.2,365 205.3,365 205.4,365 205.5,365 205.5,365 205.6,365 205.7,365 205.8,365 205.9,365 206,365 206,365 206.1,365 206.2,365 206.3,365 206.4,365 206.5,365 206.5,365 206.6,365 206.7,365 206.8,365 206.9,365 207,365 207,282.8 207.1,365 207.2,282.8 207.3,365 207.4,365 207.5,365 207.5,365 207.6,282.8 207.7,365 207.8,365 207.9,365 208,282.8 208,365 208.1,282.8 208.2,365 208.3,365 208.4,282.8 208.5,365 208.5,365 208.6,282.8 208.7,365 208.8,365 208.9,365 209,365 209,282.8 209.1,365 209.2,282.8 209.3,365 209.4,365 209.5,365 209.5,365 209.6,365 209.7,365 209.8,365 209.9,365 210,365 210,365 210.1,365 210.2,324.6 210.3,365 210.4,324.6 210.5,324.6 210.5,365 210.6,365 210.7,365 210.8,365 210.9,365 211,365 211,365 211.1,365 211.2,365 211.3,365 211.4,365 211.5,365 211.5,365 211.6,365 211.7,365 211.8,365 211.9,365 212,365 212,365 212.1,365 212.2,365 212.3,365 212.4,365 212.5,365 212.5,365 212.6,365 212.7,365 212.8,365 212.9,365 213,365 213,365 213.1,365 213.2,282.8 213.3,365 213.4,365 213.5,365 213.5,365 213.6,365 213.7,365 213.8,365 213.9,365 214,365 214,324.6 214.1,365 214.2,324.6 214.3,365 214.4,324.6 214.5,365 214.5,365 214.6,365 214.7,365 214.8,365 214.9,282.8 215,365 215,365 215.1,282.8 215.2,365 215.3,365 215.4,365 215.4,365 215.5,365 215.6,365 215.7,365 215.8,365 215.9,365 215.9,365 216,282.8 216.1,365 216.2,365 216.3,365 216.4,365 216.4,365 216.5,365 216.6,365 216.7,282.8 216.8,365 216.9,365 216.9,365 217,365 217.1,365 217.2,282.8 217.3,365 217.4,365 217.4,365 217.5,365 217.6,365 217.7,365 217.8,324.6 217.9,282.8 217.9,324.6 218,365 218.1,324.6 218.2,365 218.3,365 218.4,365 218.4,365 218.5,365 218.6,365 218.7,365 218.8,365 218.9,365 218.9,365 219,365 219.1,365 219.2,365 219.3,365 219.4,365 219.4,365 219.5,365 219.6,365 219.7,365 219.8,365 219.9,365 219.9,365 220,365 220.1,365 220.2,365 220.3,365 220.4,365 220.4,365 220.5,365 220.6,365 220.7,365 220.8,365 220.9,324.6 220.9,365 221,324.6 221.1,365 221.2,324.6 221.3,365 221.4,365 221.4,365 221.5,365 221.6,365 221.7,365 221.8,365 221.9,365 221.9,365 222,365 222.1,365 222.2,365 222.3,365 222.4,365 222.4,365 222.5,365 222.6,365 222.7,365 222.8,365 222.9,365 222.9,365 223,365 223.1,365 223.2,365 223.3,365 223.4,365 223.4,365 223.5,365 223.6,365 223.7,365 223.8,365 223.9,365 223.9,365 224,365 224.1,365 224.2,365 224.3,365 224.4,365 224.4,365 224.5,365 224.6,365 224.7,365 224.8,365 224.9,365 224.9,365 225,365 225.1,365 225.2,365 225.3,365 225.4,365 225.4,365 225.5,365 225.6,365 225.7,365 225.8,365 225.9,365 225.9,365 226,365 226.1,365 226.2,365 226.3,365 226.4,365 226.4,365 226.5,365 226.6,365 226.7,365 226.8,365 226.9,365 226.9,365 227,365 227.1,365 227.2,365 227.3,365 227.4,324.6 227.4,324.6 227.5,365 227.6,324.6 227.7,365 227.8,365 227.9,365 227.9,365 228,282.8 228.1,365 228.2,282.8 228.3,365 228.4,365 228.4,365 228.5,365 228.6,365 228.7,365 228.8,365 228.9,365 228.9,365 229,365 229.1,365 229.2,365 229.3,365 229.4,365 229.4,365 229.5,365 229.6,365 229.7,365 229.8,365 229.9,365 229.9,365 230,365 230.1,365 230.2,365 230.3,365 230.4,365 230.4,365 230.5,365 230.6,365 230.7,365 230.8,365 230.9,365 230.9,365 231,365 231.1,365 231.2,365 231.3,365 231.4,365 231.4,365 231.5,365 231.6,365 231.7,365 231.8,365 231.9,324.6 231.9,365 232,365 232.1,324.6 232.2,365 232.3,365 232.4,365 232.4,365 232.5,365 232.6,365 232.7,365 232.8,365 232.9,365 232.9,365 233,365 233.1,365 233.2,365 233.3,365 233.4,365 233.4,282.8 233.5,365 233.6,282.8 233.7,446.6 233.8,365 233.9,365 233.9,365 234,365 234.1,365 234.2,365 234.3,365 234.4,365 234.4,365 234.5,365 234.6,365 234.7,365 234.8,365 234.9,365 234.9,365 235,365 235.1,365 235.2,365 235.3,365 235.4,365 235.4,365 235.5,365 235.6,365 235.7,365 235.8,365 235.9,365 235.9,365 236,365 236.1,365 236.2,365 236.3,365 236.4,365 236.4,365 236.5,365 236.6,365 236.7,365 236.8,365 236.9,365 236.9,365 237,365 237.1,365 237.2,365 237.3,365 237.4,365 237.4,324.6 237.5,365 237.6,324.6 237.7,324.6 237.8,365 237.9,365 237.9,365 238,365 238.1,365 238.2,365 238.3,365 238.4,365 238.4,365 238.5,365 238.6,365 238.7,365 238.8,365 238.9,365 238.9,365 239,365 239.1,365 239.2,365 239.3,365 239.4,365 239.4,365 239.5,365 239.6,365 239.7,365 239.8,365 239.9,365 239.9,365 240,365 240.1,365" fill="none" stroke="#262626" stroke-width="0.5" stroke-linejoin="round" marker-start="url(#m9)" marker-mid="url(#m9)" marker-end="url(#m9)"/></g>
<rect x="41.4" y="271" width="206.6" height="180.5" fill="none" stroke="#5a5a5a" stroke-width="1.05"/>
<path d="M48.6 451.5v4.6M90.2 451.5v4.6M131.9 451.5v4.6M173.6 451.5v4.6M215.2 451.5v4.6M41.4 444.3h-4.8M41.4 402.8h-4.8M41.4 361.3h-4.8M41.4 319.8h-4.8M41.4 278.3h-4.8" stroke="#5a5a5a" stroke-width="0.9" fill="none"/>
<path d="M178.5 271V451.5" stroke="#4a4a4a" stroke-width="1" stroke-dasharray="2 1.7" fill="none"/>
<g font-family="'Liberation Sans', sans-serif" fill="#000" stroke="#000" stroke-width="0.22">
<text x="48.6" y="468.2" font-size="7.7" text-anchor="middle">0</text>
<text x="90.2" y="468.2" font-size="7.7" text-anchor="middle">500</text>
<text x="131.9" y="468.2" font-size="7.7" text-anchor="middle">1000</text>
<text x="173.6" y="468.2" font-size="7.7" text-anchor="middle">1500</text>
<text x="215.2" y="468.2" font-size="7.7" text-anchor="middle">2000</text>
<text transform="translate(32.2 444.3) rotate(-90)" font-size="7.7" text-anchor="middle">-4</text>
<text transform="translate(32.2 402.8) rotate(-90)" font-size="7.7" text-anchor="middle">-2</text>
<text transform="translate(32.2 361.3) rotate(-90)" font-size="7.7" text-anchor="middle">0</text>
<text transform="translate(32.2 319.8) rotate(-90)" font-size="7.7" text-anchor="middle">2</text>
<text transform="translate(32.2 278.3) rotate(-90)" font-size="7.7" text-anchor="middle">4</text>
<text x="143.3" y="484" font-size="8.8" text-anchor="middle">sample k for wafer i</text>
<text transform="translate(14.7 361.2) rotate(-90)" font-size="9.0" text-anchor="middle">process variable 9</text>
<text x="179" y="426.6" font-size="7.5" text-anchor="middle" fill="#505050" stroke="none">1565</text>
</g>
<text x="139" y="503.6" font-family="'Liberation Serif', serif" font-size="16" text-anchor="middle" fill="#000" stroke="#000" stroke-width="0.25">V9</text>
<!-- V10 -->
<clipPath id="c10"><rect x="322.6" y="267" width="212.9" height="185"/></clipPath>
<marker id="m10" viewBox="-4 -4 8 8" markerWidth="8" markerHeight="8" markerUnits="userSpaceOnUse" refX="0" refY="0" overflow="visible"><circle r="0.72" fill="#000"/></marker>
<g clip-path="url(#c10)"><path d="M330.6 379.9H467.8M479.6 379.9H482.3M485.5 379.9H527.2M330.6 344.4H527.2M330.6 414.6H336.5M338.5 414.6H341.7M344.2 414.6H347.5M354.2 414.6H361.5M364.2 414.6H371.3M349.0 309.1H354.8M372.0 309.1H376.1M388.6 309.1H393.4M397.0 309.1H437.1M441.2 309.1H465.0M467.8 309.1H485.5M498.0 309.1H527.2M468.8 274.1H474.7" stroke="#000" stroke-width="1.8" stroke-linecap="round" fill="none"/><path d="M331.3 379.9V344.4M332.3 414.6V379.9M332.7 414.6V379.9M332.9 379.9V344.4M333.8 379.9V344.4M335.6 414.6V379.9M336.0 379.9V344.4M337.4 379.9V344.4M338.1 344.4V309.1M338.3 344.4V309.1M338.6 379.9V344.4M339.4 379.9V344.4M340.5 414.6V379.9M341.2 379.9V344.4M341.7 414.6V379.9M342.4 379.9V344.4M343.7 379.9V344.4M343.7 344.4V309.1M344.0 344.4V309.1M344.9 414.6V379.9M345.7 414.6V379.9M346.0 379.9V344.4M347.4 379.9V344.4M347.6 379.9V344.4M350.0 379.9V344.4M350.8 344.4V309.1M351.1 379.9V344.4M352.2 379.9V344.4M352.4 344.4V309.1M353.5 379.9V344.4M354.1 344.4V309.1M355.4 379.9V344.4M356.1 414.6V379.9M356.5 379.9V344.4M356.7 414.6V379.9M358.2 379.9V344.4M358.9 414.6V379.9M359.6 379.9V344.4M360.3 379.9V344.4M360.3 414.6V379.9M362.5 379.9V344.4M364.2 379.9V344.4M364.2 414.6V379.9M365.6 414.6V379.9M365.6 379.9V344.4M366.5 379.9V344.4M367.2 379.9V344.4M368.5 414.6V379.9M368.6 379.9V344.4M370.0 414.6V379.9M370.1 379.9V344.4M371.0 414.6V379.9M372.5 379.9V344.4M373.1 344.4V309.1M373.1 379.9V344.4M374.3 344.4V309.1M374.6 379.9V344.4M376.7 379.9V344.4M377.3 379.9V344.4M379.0 379.9V344.4M380.3 379.9V344.4M381.2 379.9V344.4M383.3 379.9V344.4M385.0 379.9V344.4M385.5 379.9V344.4M387.0 379.9V344.4M388.7 379.9V344.4M389.6 379.9V344.4M389.9 344.4V309.1M391.6 379.9V344.4M392.6 344.4V309.1M393.4 379.9V344.4M394.6 379.9V344.4M395.8 379.9V344.4M397.4 344.4V309.1M397.6 379.9V344.4M398.1 379.9V344.4M399.1 344.4V309.1M400.1 379.9V344.4M400.5 344.4V309.1M401.2 379.9V344.4M401.6 344.4V309.1M402.3 344.4V309.1M402.9 379.9V344.4M403.7 379.9V344.4M404.2 344.4V309.1M405.1 344.4V309.1M405.9 379.9V344.4M406.5 379.9V344.4M406.5 344.4V309.1M406.9 344.4V274.1M407.2 344.4V274.1M407.9 379.9V344.4M408.1 344.4V309.1M409.8 344.4V309.1M410.2 379.9V344.4M411.6 344.4V309.1M411.7 379.9V344.4M412.5 379.9V344.4M412.8 344.4V309.1M413.8 344.4V309.1M413.9 379.9V344.4M414.7 344.4V274.1M415.0 379.9V344.4M415.7 344.4V309.1M416.5 379.9V344.4M416.9 344.4V309.1M418.3 344.4V309.1M418.3 379.9V344.4M419.2 379.9V344.4M419.3 344.4V309.1M420.5 379.9V344.4M421.0 344.4V309.1M422.2 344.4V309.1M422.3 379.9V344.4M423.3 379.9V344.4M424.1 344.4V309.1M425.3 379.9V344.4M425.7 344.4V309.1M427.0 379.9V344.4M427.4 344.4V309.1M428.3 379.9V344.4M429.0 344.4V309.1M429.3 379.9V344.4M430.6 379.9V344.4M431.0 344.4V309.1M432.1 379.9V344.4M432.6 344.4V309.1M432.9 379.9V344.4M434.4 344.4V309.1M435.2 379.9V344.4M435.4 344.4V309.1M436.1 379.9V344.4M437.5 379.9V344.4M438.6 379.9V344.4M440.5 379.9V344.4M442.1 379.9V344.4M442.9 344.4V309.1M443.2 379.9V344.4M444.4 344.4V309.1M445.2 379.9V344.4M445.4 344.4V309.1M446.0 344.4V309.1M446.4 379.9V344.4M447.2 379.9V344.4M448.4 344.4V309.1M449.0 379.9V344.4M449.8 344.4V309.1M450.1 344.4V309.1M450.9 379.9V344.4M451.8 379.9V344.4M451.9 344.4V309.1M453.3 379.9V344.4M453.3 344.4V309.1M454.0 379.9V344.4M455.2 344.4V309.1M455.9 379.9V344.4M456.5 344.4V309.1M457.3 379.9V344.4M457.5 344.4V309.1M458.6 379.9V344.4M458.7 344.4V309.1M460.0 379.9V344.4M460.1 344.4V309.1M461.4 344.4V309.1M461.7 379.9V344.4M463.0 379.9V344.4M463.7 344.4V309.1M464.3 379.9V344.4M465.0 344.4V309.1M465.3 379.9V344.4M467.1 379.9V344.4M468.3 344.4V309.1M468.8 309.1V274.1M469.0 309.1V274.1M469.9 309.1V274.1M469.9 344.4V309.1M470.3 344.4V309.1M471.8 309.1V274.1M472.1 344.4V309.1M473.3 344.4V309.1M473.8 309.1V274.1M474.7 309.1V274.1M474.9 309.1V274.1M475.2 344.4V309.1M476.4 344.4V309.1M476.7 344.4V309.1M478.3 344.4V309.1M481.1 344.4V309.1M481.2 379.9V344.4M483.2 344.4V309.1M485.5 344.4V309.1M485.5 379.9V344.4M487.0 379.9V344.4M487.8 379.9V344.4M489.2 379.9V344.4M490.7 379.9V344.4M491.7 344.4V309.1M492.5 379.9V344.4M494.6 379.9V344.4M495.3 379.9V344.4M495.9 344.4V309.1M496.7 379.9V344.4M498.1 379.9V344.4M499.5 379.9V344.4M499.7 344.4V309.1M500.3 344.4V309.1M500.9 379.9V344.4M501.3 344.4V309.1M502.6 379.9V344.4M503.6 344.4V309.1M504.1 344.4V309.1M504.2 379.9V344.4M505.4 379.9V344.4M506.2 344.4V309.1M506.4 379.9V344.4M508.0 344.4V309.1M508.1 379.9V344.4M508.8 344.4V309.1M509.9 379.9V344.4M510.3 379.9V344.4M510.4 344.4V309.1M511.3 344.4V309.1M511.8 379.9V344.4M512.7 344.4V309.1M513.7 379.9V344.4M514.6 344.4V309.1M515.2 379.9V344.4M516.4 344.4V309.1M516.5 379.9V344.4M517.9 379.9V344.4M517.9 344.4V309.1M518.1 344.4V309.1M519.6 379.9V344.4M520.5 379.9V344.4M520.6 344.4V309.1M521.5 344.4V309.1M522.3 379.9V344.4M522.7 344.4V309.1M523.9 379.9V344.4M524.2 344.4V309.1M524.7 379.9V344.4M525.8 344.4V309.1M526.6 379.9V344.4M526.9 344.4V309.1" stroke="#000" stroke-width="0.9" fill="none" marker-start="url(#m10)" marker-mid="url(#m10)" marker-end="url(#m10)"/></g>
<rect x="322.6" y="267" width="212.9" height="185" fill="none" stroke="#5a5a5a" stroke-width="1.05"/>
<path d="M330.6 452v4.6M373.2 452v4.6M415.9 452v4.6M458.6 452v4.6M501.2 452v4.6M322.6 444.8h-4.8M322.6 416.3h-4.8M322.6 387.9h-4.8M322.6 359.4h-4.8M322.6 331h-4.8M322.6 302.6h-4.8M322.6 274.1h-4.8" stroke="#5a5a5a" stroke-width="0.9" fill="none"/>
<path d="M464.5 267V452" stroke="#4a4a4a" stroke-width="1" stroke-dasharray="2 1.7" fill="none"/>
<g font-family="'Liberation Sans', sans-serif" fill="#000" stroke="#000" stroke-width="0.22">
<text x="330.6" y="469.2" font-size="7.7" text-anchor="middle">0</text>
<text x="373.2" y="469.2" font-size="7.7" text-anchor="middle">500</text>
<text x="415.9" y="469.2" font-size="7.7" text-anchor="middle">1000</text>
<text x="458.6" y="469.2" font-size="7.7" text-anchor="middle">1500</text>
<text x="501.2" y="469.2" font-size="7.7" text-anchor="middle">2000</text>
<text transform="translate(313.4 444.8) rotate(-90)" font-size="7.7" text-anchor="middle">-3</text>
<text transform="translate(313.4 416.3) rotate(-90)" font-size="7.7" text-anchor="middle">-2</text>
<text transform="translate(313.4 387.9) rotate(-90)" font-size="7.7" text-anchor="middle">-1</text>
<text transform="translate(313.4 359.4) rotate(-90)" font-size="7.7" text-anchor="middle">0</text>
<text transform="translate(313.4 331) rotate(-90)" font-size="7.7" text-anchor="middle">1</text>
<text transform="translate(313.4 302.6) rotate(-90)" font-size="7.7" text-anchor="middle">2</text>
<text transform="translate(313.4 274.1) rotate(-90)" font-size="7.7" text-anchor="middle">3</text>
<text x="428.5" y="484" font-size="8.8" text-anchor="middle">sample k for wafer i</text>
<text transform="translate(295.2 359.5) rotate(-90)" font-size="9.0" text-anchor="middle">process variable  10</text>
<text x="464.1" y="448.8" font-size="7.5" text-anchor="middle" fill="#505050" stroke="none">1565</text>
</g>
<text x="421.7" y="503.4" font-family="'Liberation Serif', serif" font-size="16" text-anchor="middle" fill="#000" stroke="#000" stroke-width="0.25">V10</text>
<!-- V11 -->
<clipPath id="c11"><rect x="41.4" y="531.6" width="206.6" height="179.9"/></clipPath>
<marker id="m11" viewBox="-4 -4 8 8" markerWidth="8" markerHeight="8" markerUnits="userSpaceOnUse" refX="0" refY="0" overflow="visible"><circle r="0.72" fill="#000"/></marker>
<g clip-path="url(#c11)"><path d="M68.3 688.3H72.0M81.4 688.3H83.3M92.7 688.3H109.7M113.4 688.3H116.2M147.2 688.3H162.7M168.2 688.3H178.2M49.4 663.3H76.7M79.5 663.3H116.2M127.5 663.3H145.0M147.2 663.3H162.7M168.2 663.3H180.0M49.4 638.7H162.7M163.8 638.7H180.0M209.2 638.7H212.1M214.2 638.7H240.3M49.4 614.1H57.0M59.8 614.1H158.7M163.8 614.1H240.3M49.4 590.0H54.6M73.0 590.0H116.2M119.1 590.0H145.0M147.2 590.0H156.1M171.1 590.0H174.9M180.0 590.0H217.1M219.9 590.0H224.8M227.5 590.0H230.4M233.2 590.0H240.3M137.9 565.4H145.0M180.0 565.4H207.5M180.0 540.4H198.2M200.8 540.4H207.5" stroke="#000" stroke-width="1.8" stroke-linecap="round" fill="none"/><path d="M50.4 638.7V614.1M50.5 614.1V590.0M51.2 663.3V638.7M51.6 715.7V688.3M51.8 614.1V590.0M52.0 638.7V614.1M52.9 688.3V663.3M53.5 663.3V638.7M53.6 614.1V590.0M54.6 638.7V614.1M55.8 663.3V638.7M56.6 638.7V614.1M57.0 688.3V638.7M57.2 688.3V638.7M57.4 688.3V638.7M57.9 663.3V638.7M58.1 663.3V638.7M58.3 663.3V638.7M58.6 663.3V638.7M59.5 663.3V638.7M60.4 638.7V614.1M60.5 663.3V638.7M61.2 663.3V638.7M61.2 638.7V614.1M61.9 638.7V614.1M62.2 663.3V638.7M62.6 638.7V614.1M63.3 638.7V614.1M63.3 663.3V638.7M64.1 638.7V614.1M64.1 614.1V590.0M64.2 663.3V638.7M65.8 638.7V614.1M66.0 663.3V638.7M66.1 638.7V614.1M67.4 638.7V614.1M67.6 663.3V638.7M67.9 638.7V614.1M68.6 663.3V638.7M69.2 638.7V614.1M70.0 638.7V614.1M70.1 688.3V663.3M70.1 638.7V614.1M71.2 663.3V638.7M72.5 638.7V614.1M72.7 663.3V638.7M73.0 638.7V614.1M73.0 614.1V590.0M73.1 663.3V638.7M74.0 614.1V590.0M74.4 638.7V614.1M74.9 614.1V590.0M75.1 663.3V638.7M75.7 614.1V590.0M76.0 638.7V614.1M76.4 614.1V590.0M76.5 614.1V590.0M76.7 614.1V590.0M76.9 614.1V590.0M76.9 638.7V614.1M77.1 614.1V590.0M77.6 614.1V590.0M77.8 638.7V614.1M78.5 614.1V590.0M78.5 614.1V590.0M78.8 614.1V590.0M79.0 614.1V590.0M79.0 614.1V590.0M79.5 614.1V590.0M79.8 638.7V614.1M80.2 638.7V614.1M80.3 614.1V590.0M81.0 663.3V638.7M81.3 638.7V614.1M81.8 614.1V590.0M82.0 614.1V590.0M82.0 688.3V663.3M82.8 638.7V614.1M83.3 614.1V590.0M83.5 663.3V638.7M84.0 614.1V590.0M84.3 638.7V614.1M84.3 663.3V638.7M84.6 614.1V590.0M85.1 638.7V614.1M85.5 663.3V638.7M85.8 614.1V590.0M86.1 614.1V590.0M86.5 638.7V614.1M87.0 614.1V590.0M88.0 638.7V614.1M88.0 590.0V565.4M88.0 663.3V638.7M88.1 614.1V590.0M88.2 590.0V565.4M88.6 614.1V590.0M88.9 614.1V590.0M89.2 614.1V590.0M89.4 614.1V590.0M89.4 638.7V614.1M89.6 663.3V638.7M90.0 614.1V590.0M90.2 638.7V614.1M90.4 614.1V590.0M91.2 614.1V590.0M91.7 638.7V614.1M91.9 663.3V638.7M91.9 614.1V590.0M93.2 614.1V590.0M93.6 638.7V614.1M93.9 614.1V590.0M94.8 614.1V590.0M95.3 663.3V638.7M95.5 638.7V614.1M95.5 688.3V663.3M95.7 614.1V590.0M96.6 614.1V590.0M96.7 688.3V663.3M97.1 638.7V614.1M97.6 614.1V590.0M98.2 614.1V590.0M98.6 638.7V614.1M98.7 614.1V590.0M99.5 638.7V614.1M99.6 663.3V638.7M99.7 614.1V590.0M100.3 614.1V590.0M100.5 688.3V663.3M101.0 638.7V614.1M101.0 614.1V590.0M101.9 663.3V638.7M102.2 614.1V590.0M102.5 638.7V614.1M103.0 688.3V663.3M103.1 663.3V638.7M103.2 614.1V590.0M103.6 614.1V590.0M104.4 663.3V638.7M104.5 614.1V590.0M105.4 614.1V590.0M105.4 638.7V614.1M106.0 663.3V638.7M106.5 614.1V590.0M106.7 638.7V614.1M107.2 614.1V590.0M107.7 688.3V663.3M108.1 614.1V590.0M108.1 688.3V663.3M108.7 638.7V614.1M108.8 663.3V638.7M108.9 638.7V614.1M109.0 614.1V590.0M109.6 614.1V590.0M109.6 663.3V638.7M110.7 614.1V590.0M111.0 590.0V565.4M111.4 638.7V614.1M111.6 614.1V590.0M111.8 614.1V590.0M111.9 663.3V638.7M112.8 638.7V614.1M113.3 614.1V590.0M113.4 663.3V638.7M114.0 614.1V590.0M114.3 614.1V590.0M114.7 663.3V638.7M114.7 638.7V614.1M115.4 614.1V590.0M115.7 638.7V614.1M118.3 638.7V614.1M118.6 638.7V614.1M119.9 614.1V590.0M120.4 614.1V590.0M120.9 638.7V614.1M121.5 614.1V590.0M122.6 614.1V590.0M122.7 638.7V614.1M123.5 614.1V590.0M123.5 590.0V565.4M124.5 614.1V590.0M124.6 638.7V614.1M124.7 590.0V565.4M125.0 614.1V590.0M125.9 638.7V614.1M126.0 614.1V590.0M126.6 614.1V590.0M127.5 638.7V614.1M127.9 614.1V590.0M128.4 663.3V638.7M128.9 614.1V590.0M129.2 638.7V614.1M129.6 614.1V590.0M130.6 614.1V590.0M131.0 638.7V614.1M131.1 614.1V590.0M131.6 663.3V638.7M131.8 638.7V614.1M132.2 614.1V590.0M132.4 614.1V590.0M132.5 614.1V590.0M132.6 614.1V590.0M132.7 663.3V638.7M133.1 688.3V663.3M133.5 614.1V590.0M133.8 638.7V614.1M134.4 614.1V590.0M134.9 614.1V590.0M135.5 663.3V638.7M135.7 638.7V614.1M135.9 614.1V590.0M136.0 614.1V590.0M136.2 614.1V590.0M136.4 614.1V590.0M136.6 614.1V590.0M137.3 663.3V638.7M137.3 638.7V614.1M137.9 614.1V590.0M138.2 638.7V614.1M138.8 614.1V590.0M139.3 614.1V590.0M139.5 663.3V638.7M140.0 614.1V590.0M140.1 590.0V565.4M140.4 638.7V614.1M141.1 614.1V590.0M142.1 638.7V614.1M142.1 614.1V590.0M143.1 663.3V638.7M143.1 590.0V565.4M143.2 614.1V590.0M143.3 638.7V614.1M143.5 688.3V663.3M143.9 614.1V590.0M144.4 614.1V590.0M144.9 663.3V638.7M144.9 638.7V614.1M145.6 638.7V614.1M146.9 638.7V614.1M147.5 638.7V614.1M147.8 614.1V590.0M148.0 663.3V638.7M148.5 663.3V638.7M149.4 688.3V663.3M149.4 638.7V614.1M149.9 663.3V638.7M150.2 614.1V590.0M150.8 614.1V590.0M151.1 638.7V614.1M151.4 688.3V663.3M151.7 663.3V638.7M152.2 638.7V614.1M152.5 614.1V590.0M152.5 688.3V663.3M152.7 663.3V638.7M153.3 638.7V614.1M153.4 663.3V638.7M154.2 638.7V614.1M154.3 688.3V663.3M154.6 614.1V590.0M155.2 614.1V590.0M155.6 663.3V638.7M155.8 638.7V614.1M156.0 663.3V638.7M156.9 638.7V614.1M157.3 688.3V663.3M157.3 663.3V638.7M157.8 614.1V565.4M158.0 638.7V614.1M158.0 614.1V565.4M158.4 688.3V663.3M159.2 663.3V638.7M159.9 663.3V638.7M160.7 688.3V663.3M161.1 663.3V638.7M162.1 663.3V638.7M164.4 638.7V614.1M165.4 614.1V590.0M165.4 688.3V638.7M166.4 638.7V614.1M166.8 638.7V614.1M168.2 614.1V590.0M168.2 688.3V663.3M168.4 663.3V638.7M168.7 638.7V614.1M169.2 663.3V638.7M169.9 638.7V614.1M170.3 688.3V663.3M170.6 663.3V638.7M170.8 638.7V614.1M171.4 614.1V590.0M171.5 663.3V638.7M172.0 688.3V663.3M172.6 638.7V614.1M172.6 663.3V638.7M173.4 614.1V590.0M173.7 638.7V614.1M174.2 663.3V638.7M174.3 688.3V663.3M174.8 663.3V638.7M174.9 614.1V590.0M175.0 638.7V614.1M175.5 688.3V663.3M176.0 663.3V638.7M176.6 638.7V614.1M177.1 638.7V614.1M177.4 688.3V663.3M177.4 663.3V638.7M177.8 663.3V638.7M178.1 638.7V614.1M179.5 663.3V638.7M179.7 638.7V614.1M180.4 590.0V565.4M180.8 565.4V540.4M181.5 590.0V565.4M181.6 614.1V590.0M182.4 590.0V565.4M182.5 614.1V590.0M182.6 565.4V540.4M183.6 565.4V540.4M183.8 590.0V565.4M184.0 565.4V540.4M184.4 590.0V565.4M184.5 614.1V590.0M184.9 614.1V590.0M185.1 565.4V540.4M185.4 590.0V565.4M186.5 614.1V590.0M186.6 590.0V565.4M186.7 565.4V540.4M187.1 590.0V565.4M187.3 565.4V540.4M188.2 540.4V513.6M188.3 565.4V540.4M188.4 614.1V590.0M188.6 590.0V565.4M189.0 590.0V565.4M189.5 614.1V590.0M190.1 565.4V540.4M190.3 590.0V565.4M190.8 565.4V540.4M191.0 590.0V565.4M191.5 614.1V590.0M191.9 590.0V565.4M191.9 540.4V513.6M192.2 565.4V540.4M192.7 565.4V540.4M192.9 614.1V590.0M193.1 590.0V565.4M194.0 590.0V565.4M194.0 565.4V540.4M194.2 614.1V590.0M194.9 590.0V565.4M195.4 565.4V540.4M195.8 565.4V540.4M195.9 590.0V565.4M196.0 614.1V590.0M196.9 590.0V565.4M197.1 565.4V540.4M197.1 614.1V590.0M197.6 590.0V565.4M198.2 663.3V614.1M198.3 614.1V590.0M198.6 590.0V565.4M199.8 614.1V590.0M199.9 590.0V565.4M200.8 590.0V565.4M201.7 590.0V565.4M201.8 565.4V540.4M201.9 614.1V590.0M202.8 565.4V540.4M202.9 590.0V565.4M203.1 565.4V540.4M203.4 614.1V590.0M203.7 590.0V565.4M203.9 614.1V590.0M204.3 565.4V540.4M204.8 590.0V565.4M205.2 590.0V565.4M205.5 565.4V540.4M206.2 565.4V540.4M206.2 614.1V590.0M206.6 590.0V565.4M207.3 565.4V540.4M207.5 590.0V565.4M207.5 614.1V590.0M208.2 663.3V638.7M208.9 614.1V590.0M209.2 638.7V614.1M210.6 614.1V590.0M211.1 590.0V540.4M212.1 614.1V590.0M212.6 688.3V638.7M213.3 614.1V590.0M213.8 614.1V590.0M215.7 638.7V614.1M215.8 614.1V590.0M216.3 688.3V638.7M216.4 614.1V590.0M216.8 638.7V614.1M218.9 638.7V614.1M219.6 638.7V614.1M219.9 614.1V590.0M220.5 614.1V590.0M221.5 638.7V614.1M221.8 614.1V590.0M222.3 614.1V590.0M222.4 638.7V614.1M223.8 614.1V590.0M224.1 638.7V614.1M224.8 663.3V638.7M226.1 638.7V614.1M227.5 614.1V590.0M227.7 638.7V614.1M228.4 614.1V590.0M229.1 638.7V614.1M229.8 614.1V590.0M229.9 638.7V614.1M230.4 688.3V638.7M230.7 614.1V590.0M231.6 638.7V614.1M232.7 638.7V614.1M233.9 638.7V614.1M234.3 688.3V638.7M234.3 614.1V590.0M234.9 614.1V590.0M235.7 614.1V590.0M235.8 638.7V614.1M236.6 614.1V590.0M237.7 638.7V614.1M237.9 614.1V590.0M239.1 614.1V590.0M239.2 638.7V614.1M239.4 614.1V590.0M240.3 638.7V614.1" stroke="#000" stroke-width="0.8" fill="none" marker-start="url(#m11)" marker-mid="url(#m11)" marker-end="url(#m11)"/></g>
<rect x="41.4" y="531.6" width="206.6" height="179.9" fill="none" stroke="#5a5a5a" stroke-width="1.05"/>
<path d="M49 711.5v4.6M90.6 711.5v4.6M132.2 711.5v4.6M173.8 711.5v4.6M215.4 711.5v4.6M41.4 704.6h-4.8M41.4 676.9h-4.8M41.4 649.2h-4.8M41.4 621.5h-4.8M41.4 593.9h-4.8M41.4 566.2h-4.8M41.4 538.5h-4.8" stroke="#5a5a5a" stroke-width="0.9" fill="none"/>
<path d="M179.5 532V711.5" stroke="#4a4a4a" stroke-width="1" stroke-dasharray="2 1.7" fill="none"/>
<g font-family="'Liberation Sans', sans-serif" fill="#000" stroke="#000" stroke-width="0.22">
<text x="49" y="727.7" font-size="7.7" text-anchor="middle">0</text>
<text x="90.6" y="727.7" font-size="7.7" text-anchor="middle">500</text>
<text x="132.2" y="727.7" font-size="7.7" text-anchor="middle">1000</text>
<text x="173.8" y="727.7" font-size="7.7" text-anchor="middle">1500</text>
<text x="215.4" y="727.7" font-size="7.7" text-anchor="middle">2000</text>
<text transform="translate(32.6 704.6) rotate(-90)" font-size="7.7" text-anchor="middle">-3</text>
<text transform="translate(32.6 676.9) rotate(-90)" font-size="7.7" text-anchor="middle">-2</text>
<text transform="translate(32.6 649.2) rotate(-90)" font-size="7.7" text-anchor="middle">-1</text>
<text transform="translate(32.6 621.5) rotate(-90)" font-size="7.7" text-anchor="middle">0</text>
<text transform="translate(32.6 593.9) rotate(-90)" font-size="7.7" text-anchor="middle">1</text>
<text transform="translate(32.6 566.2) rotate(-90)" font-size="7.7" text-anchor="middle">2</text>
<text transform="translate(32.6 538.5) rotate(-90)" font-size="7.7" text-anchor="middle">3</text>
<text x="143.8" y="743.6" font-size="8.8" text-anchor="middle">sample k for wafer i</text>
<text transform="translate(14.7 621.5) rotate(-90)" font-size="9.0" text-anchor="middle">process variable  11</text>
<text x="179.2" y="708.3" font-size="7.5" text-anchor="middle" fill="#505050" stroke="none">1565</text>
</g>
<text x="138" y="763.6" font-family="'Liberation Serif', serif" font-size="16" text-anchor="middle" fill="#000" stroke="#000" stroke-width="0.25">V11</text>
<!-- V12 -->
<clipPath id="c12"><rect x="322.3" y="527.9" width="212.2" height="184.7"/></clipPath>
<marker id="m12" viewBox="-4 -4 8 8" markerWidth="8" markerHeight="8" markerUnits="userSpaceOnUse" refX="0" refY="0" overflow="visible"><circle r="0.9" fill="#000"/></marker>
<g clip-path="url(#c12)"><polyline points="330.1,578.3 330.2,577.4 330.3,581 330.4,585.7 330.4,589.9 330.5,601.2 330.6,613 330.7,623.4 330.8,638.5 330.9,645.3 331,646.6 331,650.1 331.1,578.1 331.2,581.7 331.3,587.8 331.4,593.8 331.5,607.2 331.6,621.1 331.6,635.6 331.7,641.7 331.8,568.5 331.9,650.5 332,571.5 332.1,575.5 332.1,579.5 332.2,585.1 332.3,595.1 332.4,611.1 332.5,567.6 332.6,635 332.7,643.7 332.7,649.3 332.8,651.9 332.9,568 333,574.1 333.1,578.8 333.2,591.2 333.3,610.2 333.3,627 333.4,642 333.5,646.2 333.6,654.3 333.7,566.6 333.8,626.7 333.9,577 333.9,587 334,594 334.1,602.6 334.2,609.9 334.3,625.8 334.4,633.7 334.5,643.9 334.5,649.7 334.6,654.9 334.7,654.4 334.8,574.2 334.9,576.1 335,580.9 335.1,593.8 335.1,617.6 335.2,619.5 335.3,633.3 335.4,642.3 335.5,650.9 335.6,652.1 335.7,584.1 335.7,586.6 335.8,592.4 335.9,601.9 336,618.5 336.1,630.1 336.2,641 336.2,648.7 336.3,650.1 336.4,584 336.5,585.3 336.6,592.1 336.7,599.4 336.8,611.4 336.8,622.9 336.9,633.5 337,642.8 337.1,649.1 337.2,647.5 337.3,585.6 337.4,587.7 337.4,589.2 337.5,595.5 337.6,600.7 337.7,610.1 337.8,619.7 337.9,625.6 338,636.8 338,641.9 338.1,646.5 338.2,647 338.3,649.3 338.4,584.1 338.5,587.8 338.6,589.2 338.6,596.5 338.7,607.8 338.8,614.4 338.9,626.6 339,638 339.1,642.3 339.2,650.8 339.2,649.6 339.3,583.4 339.4,582.7 339.5,590.9 339.6,601.9 339.7,611 339.8,627 339.8,636.1 339.9,595.7 340,650.5 340.1,652.7 340.2,581.9 340.3,584.6 340.3,646 340.4,598.7 340.5,612.5 340.6,624.2 340.7,593.2 340.8,645 340.9,651.4 340.9,655.7 341,590.3 341.1,591.2 341.2,594.9 341.3,599.2 341.4,608.4 341.5,618.3 341.5,625.8 341.6,638.5 341.7,643 341.8,650.8 341.9,654.9 342,656.6 342.1,583.6 342.1,586.3 342.2,591.4 342.3,601.1 342.4,607.9 342.5,618.5 342.6,628.8 342.7,638.7 342.7,647.8 342.8,649.4 342.9,652.7 343,585.5 343.1,587.1 343.2,588.1 343.3,596 343.3,601.4 343.4,608.9 343.5,618.2 343.6,627.6 343.7,635.3 343.8,645.8 343.8,646.1 343.9,651.5 344,652.9 344.1,585.8 344.2,589 344.3,592.6 344.4,599.4 344.4,607.2 344.5,619.8 344.6,629.1 344.7,637.3 344.8,643.7 344.9,647 345,649.4 345,584.8 345.1,586.3 345.2,592.7 345.3,600.4 345.4,612.2 345.5,621.5 345.6,633.2 345.6,639.9 345.7,591.1 345.8,646.7 345.9,584.4 346,588.7 346.1,590.5 346.2,596.4 346.2,604.6 346.3,612.1 346.4,622.1 346.5,636.1 346.6,643.5 346.7,645.4 346.8,653.5 346.8,653.8 346.9,616 347,587.7 347.1,588.6 347.2,596.9 347.3,602.7 347.4,608.9 347.4,620.3 347.5,633.4 347.6,640.3 347.7,644.4 347.8,620.2 347.9,656.6 347.9,657.5 348,583 348.1,583.2 348.2,637.8 348.3,592 348.4,601.3 348.5,611.6 348.5,618.6 348.6,629.5 348.7,640.7 348.8,651 348.9,653.8 349,659.6 349.1,660 349.1,584.2 349.2,583.8 349.3,589.3 349.4,594.8 349.5,604.1 349.6,614.1 349.7,626.5 349.7,640.4 349.8,648.6 349.9,653.3 350,659 350.1,659.6 350.2,584.6 350.3,582.1 350.3,585.1 350.4,595.9 350.5,599.7 350.6,609.9 350.7,622 350.8,626.7 350.9,638.2 350.9,647.8 351,651.8 351.1,653.5 351.2,655.5 351.3,586.5 351.4,587.1 351.5,589.1 351.5,595.1 351.6,602.4 351.7,614 351.8,618.5 351.9,626.7 352,634.4 352,643 352.1,646.1 352.2,650 352.3,650.1 352.4,589.5 352.5,588.5 352.6,594.7 352.6,601.7 352.7,612.7 352.8,625.7 352.9,638.9 353,645 353.1,653.1 353.2,655.7 353.2,586.9 353.3,588.4 353.4,615.2 353.5,603.6 353.6,611.4 353.7,623 353.8,636.1 353.8,643.5 353.9,651.3 354,656.3 354.1,658.1 354.2,592.3 354.3,594.8 354.4,651.5 354.4,608 354.5,609.7 354.6,616.2 354.7,627.1 354.8,635.4 354.9,643.4 355,651.6 355,654.2 355.1,655.7 355.2,658.5 355.3,597.7 355.4,598.8 355.5,603.3 355.5,607.1 355.6,619 355.7,627.1 355.8,637.2 355.9,643.6 356,650.5 356.1,656.5 356.1,661.2 356.2,659.4 356.3,599.5 356.4,598.3 356.5,604.6 356.6,609.2 356.7,614.6 356.7,640 356.8,632.7 356.9,641.2 357,647.5 357.1,606.1 357.2,657.1 357.3,656.4 357.3,598.5 357.4,601.4 357.5,604.9 357.6,611.7 357.7,625.9 357.8,633.9 357.9,643.1 357.9,650.8 358,655.9 358.1,659 358.2,599.5 358.3,598.2 358.4,601.9 358.5,598.1 358.5,611.4 358.6,619.9 358.7,629 358.8,637.2 358.9,647 359,650.7 359.1,657.7 359.1,660.3 359.2,661 359.3,599.9 359.4,602.9 359.5,604.8 359.6,629.2 359.6,618.4 359.7,629.9 359.8,638 359.9,647.1 360,648.9 360.1,656.4 360.2,655.7 360.2,596.9 360.3,600.3 360.4,600.7 360.5,607.9 360.6,613.8 360.7,618.1 360.8,627.8 360.8,637.4 360.9,643.4 361,648.6 361.1,653.3 361.2,631.3 361.3,655.3 361.4,596.3 361.4,596.8 361.5,602.2 361.6,606.4 361.7,613.4 361.8,621.3 361.9,633.3 362,641.6 362,647 362.1,652.1 362.2,654.3 362.3,655.4 362.4,595.5 362.5,594.9 362.6,597.7 362.6,600.4 362.7,608 362.8,615.3 362.9,625.4 363,633.3 363.1,637.9 363.1,646 363.2,648.8 363.3,651.2 363.4,654.3 363.5,588.9 363.6,593.6 363.7,596.9 363.7,601.2 363.8,608.7 363.9,619.8 364,634.3 364.1,640.6 364.2,643.6 364.3,649.5 364.3,653.1 364.4,588.5 364.5,592.8 364.6,595.3 364.7,610.5 364.8,619.9 364.9,632.9 364.9,644.4 365,649 365.1,652 365.2,591.2 365.3,593.5 365.4,592.5 365.5,599.6 365.5,607.2 365.6,612.7 365.7,611.9 365.8,620.2 365.9,631 366,639.5 366.1,643.9 366.1,648.2 366.2,652.5 366.3,577.5 366.4,563.8 366.5,587.8 366.6,600.6 366.7,618.1 366.7,629.9 366.8,642.8 366.9,647.5 367,563.8 367.1,567.3 367.2,572.9 367.2,579 367.3,595.1 367.4,612.7 367.5,624.8 367.6,641.4 367.7,563.8 367.8,653.4 367.8,563.8 367.9,568.1 368,573.6 368.1,584 368.2,595.5 368.3,611.3 368.4,624.6 368.4,638.7 368.5,646.4 368.6,650.9 368.7,654.5 368.8,563.9 368.9,566.2 369,579.2 369,600 369.1,603.8 369.2,617.7 369.3,623.9 369.4,633.7 369.5,642.1 369.6,595.5 369.6,650 369.7,651.8 369.8,589.9 369.9,588.8 370,597.2 370.1,603.2 370.2,589.6 370.2,625.2 370.3,638.1 370.4,648.3 370.5,652.3 370.6,656.2 370.7,593.9 370.8,600.1 370.8,601.7 370.9,608.6 371,618.8 371.1,626.9 371.2,638.6 371.3,644.9 371.3,652.5 371.4,661 371.5,664.9 371.6,666.3 371.7,600.9 371.8,605.6 371.9,606.6 371.9,615.3 372,625.1 372.1,637.9 372.2,648.2 372.3,658 372.4,664.3 372.5,670.5 372.5,671.7 372.6,608.1 372.7,609 372.8,624.6 372.9,618.1 373,623.3 373.1,630.2 373.1,638.9 373.2,649.1 373.3,652.9 373.4,661.2 373.5,668.2 373.6,670.1 373.7,671.6 373.7,602 373.8,605.3 373.9,604.4 374,615.8 374.1,616.8 374.2,626.6 374.3,637.1 374.3,641.7 374.4,650 374.5,663.2 374.6,664.5 374.7,667.1 374.8,669.1 374.8,599 374.9,600.8 375,605.8 375.1,616.3 375.2,630.7 375.3,646.6 375.4,657 375.4,662.7 375.5,669.6 375.6,590.8 375.7,595.9 375.8,602.3 375.9,609.4 376,618.1 376,633.5 376.1,642.7 376.2,652.1 376.3,661.5 376.4,665 376.5,668.8 376.6,637.9 376.6,587.3 376.7,591 376.8,603.7 376.9,613.1 377,628.3 377.1,637.6 377.2,647 377.2,657 377.3,664.5 377.4,667.4 377.5,584.5 377.6,589.2 377.7,592.7 377.8,605.9 377.8,627.6 377.9,638.4 378,650.2 378.1,662.2 378.2,665 378.3,592.8 378.4,592.9 378.4,595.7 378.5,601.5 378.6,608.1 378.7,618.9 378.8,628.7 378.9,640.2 378.9,649.9 379,656.8 379.1,660.6 379.2,664.2 379.3,666.7 379.4,588.1 379.5,661.2 379.5,598.1 379.6,606.2 379.7,625.7 379.8,639 379.9,647.5 380,661.8 380.1,669.9 380.1,669.9 380.2,594.5 380.3,596.6 380.4,599.8 380.5,605.2 380.6,614.7 380.7,624.1 380.7,635.9 380.8,647.7 380.9,655.2 381,662.5 381.1,668.5 381.2,670.2 381.3,585.4 381.3,591.6 381.4,600 381.5,609.8 381.6,627.9 381.7,649 381.8,659.9 381.9,667.2 381.9,670.9 382,587 382.1,587.7 382.2,594.5 382.3,603.9 382.4,611.2 382.5,622.5 382.5,633.6 382.6,646.4 382.7,657.1 382.8,664.3 382.9,668.7 383,669.2 383,587.1 383.1,588.6 383.2,592.1 383.3,604 383.4,612.9 383.5,629.9 383.6,642.8 383.6,649.5 383.7,659.4 383.8,666.8 383.9,669.4 384,588.8 384.1,589.8 384.2,595.8 384.2,605.9 384.3,622.4 384.4,618.2 384.5,635.8 384.6,660 384.7,661.3 384.8,667.4 384.8,588.7 384.9,592 385,601.3 385.1,615.6 385.2,630.3 385.3,650.2 385.4,656.3 385.4,665.5 385.5,667.8 385.6,588.6 385.7,588.2 385.8,595.6 385.9,603.6 386,603.5 386,634.7 386.1,645 386.2,656.2 386.3,663.2 386.4,665.3 386.5,588.8 386.5,588.3 386.6,598.1 386.7,601.5 386.8,613 386.9,621.1 387,631.4 387.1,640.7 387.1,651.9 387.2,659.3 387.3,663.6 387.4,668.8 387.5,669.3 387.6,601 387.7,601.7 387.7,608.3 387.8,617.7 387.9,626.7 388,641.8 388.1,653.7 388.2,665.5 388.3,666.2 388.3,669 388.4,599.2 388.5,600.7 388.6,606.4 388.7,619.6 388.8,634.7 388.9,647.5 388.9,660.3 389,666.6 389.1,670.4 389.2,603 389.3,603.1 389.4,610 389.5,618.2 389.5,628.4 389.6,642.4 389.7,650.9 389.8,660.8 389.9,668 390,670.1 390.1,600.3 390.1,600.7 390.2,603.3 390.3,611.2 390.4,627.6 390.5,627.3 390.6,636.6 390.6,646.9 390.7,654.7 390.8,661.2 390.9,670.9 391,674 391.1,675.7 391.2,603.1 391.2,602.5 391.3,608.5 391.4,618.8 391.5,631.8 391.6,644.2 391.7,659.9 391.8,670.6 391.8,676.7 391.9,679.2 392,593.7 392.1,594.2 392.2,605.4 392.3,620.1 392.4,639.2 392.4,685.5 392.5,669.9 392.6,679.3 392.7,682.2 392.8,595.6 392.9,598.5 393,683.8 393,607.5 393.1,616.1 393.2,627.7 393.3,638.8 393.4,651.7 393.5,661 393.6,669.7 393.6,675.1 393.7,680.5 393.8,680.1 393.9,599.8 394,601.2 394.1,607 394.2,611.8 394.2,627.2 394.3,635.3 394.4,648.7 394.5,662.5 394.6,665 394.7,673.5 394.7,673.9 394.8,598.3 394.9,600.5 395,613 395.1,624.3 395.2,635.8 395.3,654.5 395.3,664.4 395.4,673.2 395.5,677.6 395.6,654 395.7,597.3 395.8,603.9 395.9,614.5 395.9,628 396,639.3 396.1,654.4 396.2,665 396.3,668.5 396.4,670.1 396.5,593 396.5,600.1 396.6,606.4 396.7,618.9 396.8,635.7 396.9,650.7 397,663.4 397.1,668.9 397.1,671.5 397.2,593.5 397.3,597.3 397.4,601 397.5,606.9 397.6,618.3 397.7,630.4 397.7,645 397.8,652.7 397.9,656.4 398,664.4 398.1,665 398.2,590.1 398.2,594.9 398.3,594.9 398.4,600.9 398.5,609 398.6,614.8 398.7,597 398.8,638 398.8,646.7 398.9,652.8 399,656.5 399.1,661.8 399.2,663 399.3,593.1 399.4,594.6 399.4,597 399.5,601.7 399.6,609.5 399.7,620.2 399.8,629.5 399.9,642.2 400,651.6 400,657.9 400.1,660.4 400.2,663.7 400.3,665.4 400.4,602.2 400.5,603.6 400.6,606.3 400.6,614.3 400.7,617.5 400.8,627.4 400.9,634.1 401,642.5 401.1,648.8 401.2,656.8 401.2,646.1 401.3,660.6 401.4,664.7 401.5,605.2 401.6,604.4 401.7,607.7 401.8,612.3 401.8,620.5 401.9,626.8 402,638.8 402.1,646.6 402.2,653.5 402.3,657.5 402.3,662.3 402.4,663.6 402.5,602.6 402.6,604 402.7,608.7 402.8,613.7 402.9,624.8 402.9,638.2 403,646.7 403.1,655.5 403.2,662.5 403.3,659.5 403.4,603.6 403.5,607.1 403.5,608.1 403.6,613 403.7,619.1 403.8,630.9 403.9,638.4 404,644.9 404.1,655.2 404.1,658.5 404.2,659.7 404.3,661.3 404.4,603.7 404.5,605.2 404.6,610 404.7,611.8 404.7,618.7 404.8,626.4 404.9,633.8 405,640.5 405.1,648.4 405.2,652.4 405.3,657.5 405.3,660.9 405.4,661 405.5,605.9 405.6,607.9 405.7,611.2 405.8,629.5 405.8,624 405.9,633.1 406,643.5 406.1,651.1 406.2,655.4 406.3,660 406.4,660.7 406.4,611.7 406.5,611.4 406.6,611.9 406.7,618.2 406.8,622.3 406.9,631.1 407,638.4 407,644.7 407.1,651.7 407.2,658 407.3,662.3 407.4,663.9 407.5,666.2 407.6,608.5 407.6,624.4 407.7,617.5 407.8,626.1 407.9,639.3 408,649.3 408.1,659.4 408.2,662.7 408.2,665 408.3,607.9 408.4,607.2 408.5,612 408.6,621.6 408.7,630.4 408.8,640.6 408.8,650.6 408.9,660.9 409,662.8 409.1,665.3 409.2,606.8 409.3,609.3 409.4,608.5 409.4,616.7 409.5,620.5 409.6,631.4 409.7,638.9 409.8,646.3 409.9,653.9 409.9,658.9 410,666 410.1,665.6 410.2,667.4 410.3,604.9 410.4,607.4 410.5,611.8 410.5,623.4 410.6,638.1 410.7,643.6 410.8,660.9 410.9,663.3 411,667.6 411.1,602.7 411.1,604.2 411.2,607.7 411.3,610.8 411.4,619.4 411.5,629.8 411.6,642.7 411.7,650.7 411.7,659.6 411.8,661.5 411.9,665.4 412,666 412.1,601.2 412.2,601.7 412.3,608.9 412.3,613.7 412.4,625.3 412.5,639.2 412.6,649.1 412.7,655.6 412.8,661 412.9,664.1 412.9,601.4 413,600.1 413.1,606.6 413.2,611.6 413.3,620 413.4,627.4 413.5,637.5 413.5,647.3 413.6,654.4 413.7,658 413.8,664.4 413.9,665.2 414,602.4 414,604 414.1,607.6 414.2,617.1 414.3,630.3 414.4,640.6 414.5,650.6 414.6,661.6 414.6,663.9 414.7,668.2 414.8,610.5 414.9,609.4 415,613.8 415.1,617.8 415.2,623.7 415.2,630.7 415.3,641.5 415.4,652.1 415.5,656.4 415.6,664.2 415.7,666.2 415.8,671 415.8,599.6 415.9,595.5 416,586.1 416.1,593.3 416.2,600 416.3,615.4 416.4,580.5 416.4,627.2 416.5,650 416.6,660.9 416.7,664.3 416.8,667.5 416.9,668.7 417,583.3 417,585.8 417.1,595.6 417.2,607.3 417.3,615.2 417.4,625.4 417.5,635.9 417.5,642 417.6,654.1 417.7,662.1 417.8,669.5 417.9,669.4 418,667.1 418.1,601 418.1,605.3 418.2,611.3 418.3,618.7 418.4,630.3 418.5,641.2 418.6,654.2 418.7,664.9 418.7,671 418.8,670 418.9,597.8 419,600.5 419.1,606.7 419.2,616.7 419.3,627.3 419.3,642.1 419.4,655.4 419.5,662.8 419.6,667.6 419.7,672.5 419.8,597.8 419.9,599.9 419.9,603.6 420,642 420.1,616.8 420.2,627.2 420.3,639.5 420.4,645.5 420.5,655.8 420.5,662.3 420.6,666.3 420.7,667.4 420.8,602.1 420.9,602.5 421,606 421.1,616 421.1,627.2 421.2,612.9 421.3,646 421.4,657.4 421.5,668.2 421.6,669.9 421.6,671.5 421.7,601.4 421.8,604 421.9,610.9 422,618.3 422.1,668.7 422.2,634.5 422.2,651.2 422.3,657.8 422.4,663.2 422.5,667 422.6,673.9 422.7,597.9 422.8,605.6 422.8,613.9 422.9,620 423,635.4 423.1,651.3 423.2,664.9 423.3,666.3 423.4,673.7 423.4,597.9 423.5,598.9 423.6,642.4 423.7,612.8 423.8,620.7 423.9,635 424,647.6 424,657.1 424.1,666.7 424.2,672.6 424.3,650 424.4,602.6 424.5,604.7 424.6,607.4 424.6,600.9 424.7,629.5 424.8,636.8 424.9,648 425,660.2 425.1,666.1 425.2,668.8 425.2,670.7 425.3,599.7 425.4,600.2 425.5,603.1 425.6,669.6 425.7,666.5 425.7,598.1 425.8,635 425.9,645.3 426,655.3 426.1,659.9 426.2,668.2 426.3,670.5 426.3,672.3 426.4,598.2 426.5,605.2 426.6,610.1 426.7,621.7 426.8,633.9 426.9,649.2 426.9,664.3 427,665.3 427.1,604.8 427.2,598.2 427.3,601.8 427.4,602.7 427.5,610.9 427.5,619 427.6,629.2 427.7,641.3 427.8,649.3 427.9,655.2 428,663.5 428.1,666.8 428.1,668.6 428.2,598.6 428.3,600.4 428.4,606.4 428.5,606.4 428.6,614.4 428.7,628.1 428.7,583.4 428.8,653.1 428.9,659.6 429,664.7 429.1,669.8 429.2,592.2 429.2,600.3 429.3,609.5 429.4,619.4 429.5,647.6 429.6,646.7 429.7,658 429.8,667.2 429.8,665.8 429.9,601.2 430,604.7 430.1,606.7 430.2,609.3 430.3,620.3 430.4,629.8 430.4,637.9 430.5,647.2 430.6,656.7 430.7,662.2 430.8,664 430.9,666.7 431,601.2 431,602.5 431.1,604.4 431.2,605.5 431.3,612.6 431.4,617.5 431.5,625.7 431.6,633.6 431.6,644.6 431.7,651.2 431.8,653.5 431.9,655.5 432,661.8 432.1,580.1 432.2,583.3 432.2,595.9 432.3,604.5 432.4,620.2 432.5,634.6 432.6,646.9 432.7,657.7 432.8,661 432.8,577.6 432.9,579.7 433,584.1 433.1,597.4 433.2,603.3 433.3,619.3 433.3,634.4 433.4,645.8 433.5,589.8 433.6,658.1 433.7,661.1 433.8,576 433.9,575.4 433.9,591.7 434,604.1 434.1,619.2 434.2,637.8 434.3,649.3 434.4,659.4 434.5,658.4 434.5,576.9 434.6,578.2 434.7,591 434.8,601.6 434.9,618 435,637.5 435.1,647.3 435.1,658.5 435.2,662.2 435.3,581.3 435.4,585.3 435.5,590.2 435.6,594.9 435.7,606.2 435.7,617.1 435.8,625.1 435.9,634.8 436,645.5 436.1,651.4 436.2,654.1 436.3,658.4 436.3,581.6 436.4,582.2 436.5,587.6 436.6,600.3 436.7,612.4 436.8,624.2 436.9,637.7 436.9,650.4 437,653.2 437.1,655 437.2,586.2 437.3,590.5 437.4,594.6 437.4,605.7 437.5,623.9 437.6,636.8 437.7,646.9 437.8,657.7 437.9,658.2 438,578.4 438,582.2 438.1,588.1 438.2,604.2 438.3,621.7 438.4,633.4 438.5,645.1 438.6,657.3 438.6,658.8 438.7,588 438.8,594.5 438.9,643.2 439,604.5 439.1,610.1 439.2,617.1 439.2,628.6 439.3,635.2 439.4,643.4 439.5,649.5 439.6,654.8 439.7,657.5 439.8,659.6 439.8,653.7 439.9,598.2 440,600.7 440.1,608.4 440.2,628.4 440.3,618.2 440.4,628.2 440.4,635.6 440.5,645.2 440.6,650.9 440.7,653.7 440.8,657.5 440.9,658.5 440.9,597 441,604.7 441.1,607.6 441.2,616.7 441.3,653.8 441.4,642.4 441.5,652.1 441.5,659.4 441.6,663.4 441.7,596.5 441.8,599.4 441.9,604.9 442,613.2 442.1,622.4 442.1,636.2 442.2,652 442.3,657.5 442.4,663.8 442.5,666.2 442.6,599.6 442.7,599.6 442.7,606 442.8,613.8 442.9,619.7 443,630.3 443.1,643.9 443.2,650.4 443.3,656.7 443.3,661.4 443.4,660.7 443.5,592.4 443.6,598 443.7,603.2 443.8,612.4 443.9,623.3 443.9,617.8 444,648.9 444.1,656.5 444.2,662.8 444.3,665.1 444.4,593.6 444.5,598.5 444.5,602.7 444.6,658 444.7,630.7 444.8,643.5 444.9,657.3 445,662 445,666.2 445.1,593.8 445.2,596.4 445.3,603.5 445.4,611.9 445.5,629.4 445.6,640.2 445.6,650.6 445.7,657 445.8,661.9 445.9,597.8 446,602.5 446.1,603.2 446.2,602.8 446.2,623.4 446.3,630.9 446.4,640.9 446.5,651.8 446.6,659.3 446.7,662.9 446.8,664.6 446.8,594 446.9,596.3 447,600.3 447.1,611.1 447.2,624.7 447.3,635.8 447.4,646.4 447.4,657.5 447.5,664.3 447.6,662.8 447.7,596.6 447.8,597.6 447.9,602.8 448,608.3 448,615.7 448.1,629.3 448.2,641.8 448.3,644.9 448.4,650.8 448.5,659.5 448.5,662 448.6,620.9 448.7,600.4 448.8,647.5 448.9,607.4 449,614.8 449.1,624.4 449.1,639.4 449.2,652.9 449.3,656.3 449.4,662.3 449.5,663.8 449.6,601 449.7,604.3 449.7,607.4 449.8,611.6 449.9,622.6 450,632.6 450.1,583.9 450.2,656.9 450.3,663 450.3,664.8 450.4,590.2 450.5,595 450.6,605 450.7,620.1 450.8,630.8 450.9,643.8 450.9,655.8 451,660.5 451.1,663.6 451.2,595.7 451.3,599.1 451.4,601 451.5,612 451.5,625.6 451.6,637 451.7,645.6 451.8,657.8 451.9,663.2 452,664.2 452.1,597.5 452.1,598.9 452.2,602.7 452.3,608.5 452.4,615.2 452.5,626.3 452.6,636.1 452.6,644 452.7,650.9 452.8,655.1 452.9,659.7 453,657.1 453.1,585.9 453.2,584.2 453.2,588.2 453.3,593.6 453.4,607 453.5,622.5 453.6,634.3 453.7,645.1 453.8,647.8 453.8,652.2 453.9,578.3 454,582.1 454.1,589.5 454.2,601.1 454.3,616.2 454.4,628.6 454.4,642.6 454.5,651.5 454.6,651.2 454.7,582 454.8,576.1 454.9,585.6 455,590 455,600 455.1,609.3 455.2,622.4 455.3,628.2 455.4,641.1 455.5,647.4 455.6,650.2 455.6,654.8 455.7,586.3 455.8,586.1 455.9,583 456,603.8 456.1,616.8 456.2,630.3 456.2,639.8 456.3,646.1 456.4,650 456.5,582.9 456.6,584.5 456.7,585.5 456.7,591.7 456.8,599.7 456.9,609.8 457,620.8 457.1,627.6 457.2,636.8 457.3,646 457.3,648.2 457.4,651.2 457.5,595.7 457.6,579.6 457.7,585.5 457.8,590.6 457.9,605.6 457.9,621.5 458,633.8 458.1,642 458.2,651.8 458.3,657 458.4,583.9 458.5,588 458.5,588.7 458.6,595.2 458.7,602.6 458.8,611.9 458.9,621.1 459,628.3 459.1,639.2 459.1,647.8 459.2,650.6 459.3,656.4 459.4,658 459.5,581.6 459.6,586.4 459.7,595.7 459.7,603.1 459.8,618.4 459.9,634.5 460,649.8 460.1,654.5 460.2,656.5 460.2,585.8 460.3,583 460.4,592.6 460.5,598.9 460.6,612.4 460.7,627.3 460.8,636.1 460.8,651.6 460.9,653.8 461,657.9 461.1,587.3 461.2,587.1 461.3,597.5 461.4,606.5 461.4,615.4 461.5,630.6 461.6,645 461.7,649.4 461.8,652.7 461.9,658.3 462,585.9 462,590.3 462.1,594.7 462.2,601.3 462.3,609.9 462.4,621 462.5,636.3 462.6,629.5 462.6,651.4 462.7,655.7 462.8,657.7 462.9,583.2 463,614.4 463.1,588 463.2,598.8 463.2,601 463.3,612 463.4,621.9 463.5,633.9 463.6,647.7 463.7,654.9 463.8,659.9 463.8,661 463.9,663.8 464,608.5 464.1,610.4 464.2,615.9 464.3,621 464.3,632.2 464.4,641.3 464.5,650.4 464.6,657.7 464.7,662.4 464.8,662.5 464.9,608.4 464.9,612.4 465,613.2 465.1,617.8 465.2,621.3 465.3,610.3 465.4,635.5 465.5,642.5 465.5,649 465.6,611.7 465.7,658.2 465.8,629.8 465.9,660.6 466,646.3 466.1,621.8 466.1,624 466.2,627.8 466.3,635.6 466.4,640.6 466.5,649.5 466.6,655.5 466.7,659 466.7,665.2 466.8,663.7 466.9,619.6 467,659 467.1,627.5 467.2,636.7 467.3,646.6 467.3,656 467.4,663 467.5,669.1 467.6,672.7 467.7,625.7 467.8,627.3 467.9,632.3 467.9,641.1 468,654.4 468.1,663.1 468.2,673.2 468.3,677.7 468.4,680.6 468.4,629.5 468.5,631 468.6,633.8 468.7,640 468.8,649.9 468.9,659.2 469,666.9 469,675.1 469.1,678.8 469.2,678.9 469.3,630.6 469.4,632.1 469.5,633.3 469.6,640.8 469.6,648.9 469.7,655.4 469.8,662.6 469.9,670.4 470,673.8 470.1,678.5 470.2,678.8 470.2,632.3 470.3,631.8 470.4,636.9 470.5,644.1 470.6,655.7 470.7,678.9 470.8,671.7 470.8,679.3 470.9,678.9 471,626.4 471.1,628.8 471.2,629.9 471.3,638.6 471.4,645.6 471.4,653.1 471.5,662.3 471.6,670.9 471.7,673.6 471.8,678.1 471.9,680.7 471.9,668.7 472,627.1 472.1,631.4 472.2,634.3 472.3,639.8 472.4,650.2 472.5,657.2 472.5,664.4 472.6,672.7 472.7,676.8 472.8,678.8 472.9,679.5 473,626.8 473.1,631 473.1,634.5 473.2,649.4 473.3,652.2 473.4,663 473.5,670.6 473.6,670.1 473.7,629.2 473.7,626.5 473.8,628.5 473.9,630 474,634.5 474.1,643.1 474.2,648.8 474.3,658.2 474.3,663.6 474.4,672.2 474.5,677.3 474.6,678.5 474.7,680.6 474.8,630.6 474.9,631.4 474.9,639 475,638.6 475.1,645.6 475.2,654.8 475.3,666 475.4,657.6 475.5,676.7 475.5,677.8 475.6,680.9 475.7,625.8 475.8,628.3 475.9,629.5 476,636.3 476,644.1 476.1,650.7 476.2,659.4 476.3,627.7 476.4,672.3 476.5,677.7 476.6,676.6 476.6,633.3 476.7,631 476.8,634.6 476.9,643 477,649.8 477.1,658.1 477.2,668 477.2,674.2 477.3,677.4 477.4,678.9 477.5,630.1 477.6,633.3 477.7,635.8 477.8,639.1 477.8,645.8 477.9,652.7 478,659.4 478.1,666.3 478.2,670.7 478.3,675.5 478.4,672.1 478.4,630 478.5,630.6 478.6,633.8 478.7,638.6 478.8,643.7 478.9,654.6 479,663.3 479,671.6 479.1,674.7 479.2,679.5 479.3,679.8 479.4,630.6 479.5,631.4 479.6,633.7 479.6,637.4 479.7,639.4 479.8,647.6 479.9,655.7 480,661.2 480.1,667.4 480.1,670.8 480.2,675.3 480.3,678.4 480.4,673.7 480.5,625.7 480.6,626.2 480.7,627.7 480.7,633.2 480.8,635.7 480.9,643.3 481,649.3 481.1,659.3 481.2,661.9 481.3,669.1 481.3,672.5 481.4,625.5 481.5,674.6 481.6,625.9 481.7,629.6 481.8,632.8 481.9,634.9 481.9,642 482,649.4 482.1,658.8 482.2,665.8 482.3,673 482.4,679.8 482.5,678.1 482.5,680.6 482.6,627.9 482.7,629.4 482.8,630.1 482.9,634 483,639 483.1,644 483.1,648 483.2,626.9 483.3,659.4 483.4,658.9 483.5,604 483.6,606.2 483.6,609.4 483.7,614.1 483.8,618.4 483.9,629 484,636.5 484.1,645 484.2,652.5 484.2,629.1 484.3,660.4 484.4,659.9 484.5,607.2 484.6,610.9 484.7,611.4 484.8,616.6 484.8,625.9 484.9,629.7 485,637.9 485.1,643.3 485.2,652 485.3,656.2 485.4,658.6 485.4,658 485.5,608.2 485.6,610.6 485.7,614.3 485.8,622.4 485.9,629.8 486,637.5 486,646.1 486.1,652.7 486.2,658 486.3,661 486.4,606.9 486.5,608.5 486.6,615.6 486.6,623.2 486.7,634.6 486.8,643 486.9,652 487,658.3 487.1,659.6 487.2,605.4 487.2,606.5 487.3,611 487.4,618.7 487.5,627.3 487.6,639.9 487.7,648.9 487.7,655.8 487.8,659.6 487.9,660.8 488,609 488.1,609.3 488.2,615.2 488.3,620.3 488.3,630.3 488.4,639 488.5,646.1 488.6,655.3 488.7,659.6 488.8,661.1 488.9,604.2 488.9,603.8 489,608.6 489.1,612.8 489.2,619.5 489.3,629.2 489.4,639.3 489.5,647.5 489.5,656.5 489.6,660.2 489.7,662.3 489.8,664.6 489.9,605.2 490,606.7 490.1,611 490.1,617.2 490.2,623 490.3,637.3 490.4,645.2 490.5,653.8 490.6,659.3 490.7,663.2 490.7,665.1 490.8,603.9 490.9,607.2 491,611.7 491.1,617 491.2,623.7 491.2,632.5 491.3,645.2 491.4,654.3 491.5,658.4 491.6,661 491.7,664.8 491.8,607 491.8,607.1 491.9,610.1 492,611.1 492.1,620.4 492.2,629 492.3,658.6 492.4,644 492.4,649.4 492.5,656.5 492.6,660.7 492.7,664.2 492.8,663.2 492.9,607.1 493,606.3 493,611.5 493.1,616.9 493.2,624.4 493.3,632.9 493.4,646.7 493.5,651.9 493.6,661 493.6,662.7 493.7,666 493.8,606.9 493.9,607.1 494,610.1 494.1,613.5 494.2,619 494.2,629.8 494.3,636 494.4,648.1 494.5,652.6 494.6,655.4 494.7,662.1 494.8,663.1 494.8,666.9 494.9,608.5 495,609.6 495.1,612.2 495.2,618.2 495.3,623 495.3,631.3 495.4,638.8 495.5,646.9 495.6,654.8 495.7,658.8 495.8,663.1 495.9,664 495.9,608.9 496,615.3 496.1,616.4 496.2,622.9 496.3,633.9 496.4,640.1 496.5,650.8 496.5,657.9 496.6,665.6 496.7,672.8 496.8,676.6 496.9,679.3 497,616.2 497.1,620.1 497.1,621.6 497.2,629 497.3,634.9 497.4,643.5 497.5,652 497.6,660.9 497.7,666.9 497.7,677.4 497.8,680.5 497.9,685.3 498,688.2 498.1,617.7 498.2,616.9 498.3,617.4 498.3,627.9 498.4,635.3 498.5,646.5 498.6,654.5 498.7,666.3 498.8,673.6 498.9,680.3 498.9,687.7 499,661.1 499.1,617 499.2,618.4 499.3,625.4 499.4,629.4 499.4,641 499.5,651.4 499.6,687.4 499.7,672.5 499.8,679.1 499.9,683.3 500,687.1 500,616.8 500.1,620 500.2,623.4 500.3,632.3 500.4,643.8 500.5,652.4 500.6,641.9 500.6,672.9 500.7,679.4 500.8,685.9 500.9,645.1 501,618.6 501.1,619.2 501.2,625.6 501.2,641.6 501.3,650.9 501.4,665.2 501.5,673.7 501.6,685.9 501.7,686.5 501.8,614.6 501.8,615.9 501.9,620.6 502,628.5 502.1,637.1 502.2,641.6 502.3,657.4 502.4,664.9 502.4,674.1 502.5,677.2 502.6,685.2 502.7,664.3 502.8,613.7 502.9,614.3 502.9,622.4 503,629.5 503.1,638.3 503.2,650 503.3,659.4 503.4,671.1 503.5,675.3 503.5,680.5 503.6,681.6 503.7,615.5 503.8,616.8 503.9,623 504,633.7 504.1,643.2 504.1,654.8 504.2,670.7 504.3,679.9 504.4,684.8 504.5,684.6 504.6,612.7 504.7,616.6 504.7,620.2 504.8,632.2 504.9,640.7 505,657.6 505.1,667.1 505.2,674.9 505.3,680.5 505.3,685.7 505.4,614.6 505.5,618.3 505.6,624.5 505.7,636.2 505.8,648.4 505.9,665.2 505.9,673 506,682 506.1,683.1 506.2,613.7 506.3,618.2 506.4,624.4 506.5,632.9 506.5,642.9 506.6,657.9 506.7,670.2 506.8,674.4 506.9,683 507,684.6 507,617.8 507.1,614.4 507.2,620.3 507.3,625.8 507.4,633.3 507.5,642 507.6,666.7 507.6,659.4 507.7,669.5 507.8,674.7 507.9,678.6 508,684 508.1,685.5 508.2,615.4 508.2,615.4 508.3,624 508.4,634.2 508.5,650.4 508.6,665.6 508.7,676.5 508.8,684.4 508.8,663.6 508.9,619.4 509,622.6 509.1,623.3 509.2,628.9 509.3,633.2 509.4,645.1 509.4,650.8 509.5,662.8 509.6,672.7 509.7,677 509.8,683.6 509.9,686.4 510,686.8 510,611.1 510.1,652.8 510.2,618.4 510.3,623.4 510.4,628.7 510.5,641.1 510.6,650.3 510.6,659.6 510.7,664.4 510.8,677.9 510.9,661.2 511,685.2 511.1,683 511.1,612.8 511.2,612.6 511.3,659.9 511.4,623.8 511.5,627.6 511.6,642.1 511.7,647.4 511.7,656.6 511.8,664.5 511.9,671.5 512,675.4 512.1,680.7 512.2,680.8 512.3,613.5 512.3,613.4 512.4,623.5 512.5,624.3 512.6,633 512.7,641.6 512.8,651.5 512.9,662.3 512.9,669.9 513,675.9 513.1,678.3 513.2,678.9 513.3,621.8 513.4,623 513.5,630.1 513.5,634.5 513.6,645.4 513.7,658.6 513.8,668.1 513.9,676.1 514,678.4 514.1,682 514.1,617.1 514.2,619.1 514.3,622.7 514.4,626.3 514.5,653.9 514.6,639.7 514.6,649.6 514.7,657.4 514.8,664.2 514.9,675.5 515,679 515.1,678.5 515.2,683.9 515.2,611.6 515.3,614.1 515.4,619.3 515.5,627.7 515.6,635.8 515.7,645.5 515.8,658.5 515.8,670.1 515.9,677.4 516,681.3 516.1,684.9 516.2,616.1 516.3,616.6 516.4,624.5 516.4,633.9 516.5,649 516.6,664 516.7,673.9 516.8,681.9 516.9,684.8 517,614.6 517,615.1 517.1,620.7 517.2,621.2 517.3,631.7 517.4,637.6 517.5,650.8 517.6,657.8 517.6,669.8 517.7,671.6 517.8,676.8 517.9,682.7 518,678.6 518.1,611.6 518.2,613.6 518.2,624.2 518.3,633.4 518.4,647.7 518.5,660.3 518.6,674.1 518.7,680.4 518.7,684.6 518.8,615.6 518.9,617.6 519,618.5 519.1,625.3 519.2,634.2 519.3,643.9 519.3,656.2 519.4,663.7 519.5,673.7 519.6,676.7 519.7,680.4 519.8,682.3 519.9,617.6 519.9,621.7 520,626.3 520.1,636 520.2,642.5 520.3,654.6 520.4,668.7 520.5,675.8 520.5,680.2 520.6,684.5 520.7,614.5 520.8,615 520.9,621.2 521,627.7 521.1,635.4 521.1,642.6 521.2,656.3 521.3,663 521.4,669.9 521.5,678.1 521.6,683.1 521.7,682.4 521.7,614.5 521.8,612.3 521.9,619.5 522,626.9 522.1,635.9 522.2,646.4 522.2,661.2 522.3,666.1 522.4,675.4 522.5,682 522.6,682.2 522.7,615.1 522.8,615.1 522.8,619.6 522.9,627.1 523,640.5 523.1,652.2 523.2,662.4 523.3,671.9 523.4,675.5 523.4,677.3 523.5,613.4 523.6,614.3 523.7,623.4 523.8,623.1 523.9,635.8 524,635.9 524,658.1 524.1,662.1 524.2,671.2 524.3,650.4 524.4,684.1 524.5,684.5 524.6,613.2 524.6,614.9 524.7,620.4 524.8,632.8 524.9,637.3 525,623.4 525.1,613.1 525.2,675.2 525.2,682.3 525.3,684.3 525.4,614.2 525.5,615.3 525.6,620.3 525.7,631.1 525.8,641.3 525.8,656.7 525.9,664.2 526,677.1 526.1,681.6 526.2,684.3 526.3,616.6 526.3,619 526.4,624.9" fill="none" stroke="#585858" stroke-width="0.45" stroke-linejoin="round" marker-start="url(#m12)" marker-mid="url(#m12)" marker-end="url(#m12)"/></g>
<rect x="322.3" y="527.9" width="212.2" height="184.7" fill="none" stroke="#5a5a5a" stroke-width="1.05"/>
<path d="M330.1 712.6v4.6M372.8 712.6v4.6M415.5 712.6v4.6M458.2 712.6v4.6M500.9 712.6v4.6M322.3 705.9h-4.8M322.3 677.4h-4.8M322.3 649h-4.8M322.3 620.5h-4.8M322.3 592h-4.8M322.3 563.6h-4.8M322.3 535.1h-4.8" stroke="#5a5a5a" stroke-width="0.9" fill="none"/>
<path d="M463.5 528V712.6" stroke="#4a4a4a" stroke-width="1" stroke-dasharray="2 1.7" fill="none"/>
<g font-family="'Liberation Sans', sans-serif" fill="#000" stroke="#000" stroke-width="0.22">
<text x="330.1" y="728.7" font-size="7.7" text-anchor="middle">0</text>
<text x="372.8" y="728.7" font-size="7.7" text-anchor="middle">500</text>
<text x="415.5" y="728.7" font-size="7.7" text-anchor="middle">1000</text>
<text x="458.2" y="728.7" font-size="7.7" text-anchor="middle">1500</text>
<text x="500.9" y="728.7" font-size="7.7" text-anchor="middle">2000</text>
<text transform="translate(312.9 705.9) rotate(-90)" font-size="7.7" text-anchor="middle">-3</text>
<text transform="translate(312.9 677.4) rotate(-90)" font-size="7.7" text-anchor="middle">-2</text>
<text transform="translate(312.9 649) rotate(-90)" font-size="7.7" text-anchor="middle">-1</text>
<text transform="translate(312.9 620.5) rotate(-90)" font-size="7.7" text-anchor="middle">0</text>
<text transform="translate(312.9 592) rotate(-90)" font-size="7.7" text-anchor="middle">1</text>
<text transform="translate(312.9 563.6) rotate(-90)" font-size="7.7" text-anchor="middle">2</text>
<text transform="translate(312.9 535.1) rotate(-90)" font-size="7.7" text-anchor="middle">3</text>
<text x="428.5" y="744" font-size="8.8" text-anchor="middle">sample k for wafer i</text>
<text transform="translate(295.2 620.2) rotate(-90)" font-size="9.0" text-anchor="middle">process variable  12</text>
<text x="463.8" y="709.4" font-size="7.5" text-anchor="middle" fill="#505050" stroke="none">1565</text>
</g>
<text x="423" y="763.4" font-family="'Liberation Serif', serif" font-size="16" text-anchor="middle" fill="#000" stroke="#000" stroke-width="0.25">V12</text>
</svg></body></html>
